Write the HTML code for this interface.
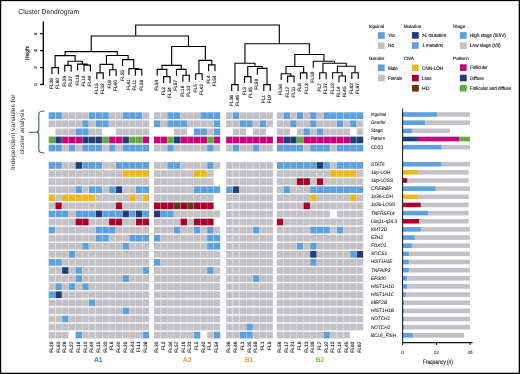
<!DOCTYPE html><html><head><meta charset="utf-8"><style>html,body{margin:0;padding:0;background:#fff;width:520px;height:374px;overflow:hidden;}svg{display:block;will-change:transform;}text{font-family:"Liberation Sans",sans-serif;fill:#111111;text-rendering:geometricPrecision;}.s{stroke:#111;stroke-width:0.12px;}.t{stroke:#222;stroke-width:0.06px;}.u{stroke:#111;stroke-width:0.1px;}</style></head><body>
<svg width="520" height="374" viewBox="0 0 520 374">
<rect x="0" y="0" width="520" height="374" fill="#fff"/>
<text x="18.3" y="14.3" font-size="7.1" style="fill:#222" textLength="60.9" lengthAdjust="spacingAndGlyphs">Cluster Dendrogram</text>
<g stroke="#000" stroke-width="1.2" fill="none">
<path d="M43.3 21.4V85" stroke-width="1.35"/>
<path d="M40.1 84.5H43.3"/>
<path d="M40.1 67.56H43.3"/>
<path d="M40.1 50.62H43.3"/>
<path d="M40.1 33.68H43.3"/>
</g>
<text class="s" font-size="4.4" text-anchor="middle" transform="translate(36.7 84.5) rotate(-90)">0</text>
<text class="s" font-size="4.4" text-anchor="middle" transform="translate(36.7 67.56) rotate(-90)">2</text>
<text class="s" font-size="4.4" text-anchor="middle" transform="translate(36.7 50.62) rotate(-90)">4</text>
<text class="s" font-size="4.4" text-anchor="middle" transform="translate(36.7 33.68) rotate(-90)">6</text>
<text class="s" font-size="5.7" text-anchor="middle" transform="translate(28.6 53) rotate(-90)" textLength="13.9" lengthAdjust="spacingAndGlyphs">Height</text>
<g stroke="#000" stroke-width="1.12" fill="none" stroke-linecap="square">
<path d="M51.9 67.6L58.32 67.6 M51.9 67.6L51.9 73.4 M58.32 67.6L58.32 73.4 M64.74 65.4L71.16 65.4 M64.74 65.4L64.74 71.2 M71.16 65.4L71.16 71.2 M84 65.1L90.42 65.1 M84 65.1L84 70.9 M90.42 65.1L90.42 70.9 M77.58 64.1L87.21 64.1 M77.58 64.1L77.58 69.9 M87.21 64.1L87.21 65.1 M67.95 61.3L82.39 61.3 M67.95 61.3L67.95 65.4 M82.39 61.3L82.39 64.1 M55.11 55.6L75.17 55.6 M55.11 55.6L55.11 67.6 M75.17 55.6L75.17 61.3 M96.84 72.9L103.26 72.9 M96.84 72.9L96.84 78.7 M103.26 72.9L103.26 78.7 M109.68 69.7L116.1 69.7 M109.68 69.7L109.68 75.5 M116.1 69.7L116.1 75.5 M100.05 64.4L112.89 64.4 M100.05 64.4L100.05 72.9 M112.89 64.4L112.89 69.7 M135.36 69.4L141.78 69.4 M135.36 69.4L135.36 75.2 M141.78 69.4L141.78 75.2 M128.94 68.6L138.57 68.6 M128.94 68.6L128.94 74.4 M138.57 68.6L138.57 69.4 M122.52 59.6L133.75 59.6 M122.52 59.6L122.52 65.4 M133.75 59.6L133.75 68.6 M106.47 55.5L128.14 55.5 M106.47 55.5L106.47 64.4 M128.14 55.5L128.14 59.6 M65.14 51.6L117.3 51.6 M65.14 51.6L65.14 55.6 M117.3 51.6L117.3 55.5 M163.62 76.6L170.04 76.6 M163.62 76.6L163.62 82.4 M170.04 76.6L170.04 82.4 M157.2 69.4L166.83 69.4 M157.2 69.4L157.2 75.2 M166.83 69.4L166.83 76.6 M182.88 75.3L189.3 75.3 M182.88 75.3L182.88 81.1 M189.3 75.3L189.3 81.1 M176.46 69.4L186.09 69.4 M176.46 69.4L176.46 75.2 M186.09 69.4L186.09 75.3 M162.01 65.4L181.27 65.4 M162.01 65.4L162.01 69.4 M181.27 65.4L181.27 69.4 M195.72 73.7L202.14 73.7 M195.72 73.7L195.72 79.5 M202.14 73.7L202.14 79.5 M208.56 64.9L214.98 64.9 M208.56 64.9L208.56 70.7 M214.98 64.9L214.98 70.7 M198.93 60.4L211.77 60.4 M198.93 60.4L198.93 73.7 M211.77 60.4L211.77 64.9 M171.64 46.5L205.35 46.5 M171.64 46.5L171.64 65.4 M205.35 46.5L205.35 60.4 M91.22 36L188.5 36 M91.22 36L91.22 51.6 M188.5 36L188.5 46.5 M231.7 84.6L238.12 84.6 M231.7 84.6L231.7 90.4 M238.12 84.6L238.12 90.4 M244.54 76.6L250.96 76.6 M244.54 76.6L244.54 82.4 M250.96 76.6L250.96 82.4 M263.8 84.6L270.22 84.6 M263.8 84.6L263.8 90.4 M270.22 84.6L270.22 90.4 M257.38 68.4L267.01 68.4 M257.38 68.4L257.38 74.2 M267.01 68.4L267.01 84.6 M247.75 66.5L262.19 66.5 M247.75 66.5L247.75 76.6 M262.19 66.5L262.19 68.4 M234.91 63.3L254.97 63.3 M234.91 63.3L234.91 84.6 M254.97 63.3L254.97 66.5 M287.62 76.1L294.04 76.1 M287.62 76.1L287.62 81.9 M294.04 76.1L294.04 81.9 M281.2 73.7L290.83 73.7 M281.2 73.7L281.2 79.5 M290.83 73.7L290.83 76.1 M300.46 72.9L306.88 72.9 M300.46 72.9L300.46 78.7 M306.88 72.9L306.88 78.7 M286.01 66.5L303.67 66.5 M286.01 66.5L286.01 73.7 M303.67 66.5L303.67 72.9 M319.72 72.8L326.14 72.8 M319.72 72.8L319.72 78.6 M326.14 72.8L326.14 78.6 M338.98 76L345.4 76 M338.98 76L338.98 81.8 M345.4 76L345.4 81.8 M332.56 72.7L342.19 72.7 M332.56 72.7L332.56 78.5 M342.19 72.7L342.19 76 M351.82 72.7L358.24 72.7 M351.82 72.7L351.82 78.5 M358.24 72.7L358.24 78.5 M337.38 66.3L355.03 66.3 M337.38 66.3L337.38 72.7 M355.03 66.3L355.03 72.7 M322.93 63.3L346.2 63.3 M322.93 63.3L322.93 72.8 M346.2 63.3L346.2 66.3 M313.3 61.3L334.57 61.3 M313.3 61.3L313.3 67.1 M334.57 61.3L334.57 63.3 M294.84 54.5L323.93 54.5 M294.84 54.5L294.84 66.5 M323.93 54.5L323.93 61.3 M244.94 43.8L309.39 43.8 M244.94 43.8L244.94 63.3 M309.39 43.8L309.39 54.5 M135.7 25L279.3 25 M135.7 25L135.7 36 M279.3 25L279.3 43.8"/>
</g>
<text class="u" font-size="4.8" text-anchor="end" transform="translate(52.9 78) rotate(-90)">FL29</text>
<text class="u" font-size="4.8" text-anchor="end" transform="translate(59.32 78) rotate(-90)">FL60</text>
<text class="u" font-size="4.8" text-anchor="end" transform="translate(65.74 75.8) rotate(-90)">FL26</text>
<text class="u" font-size="4.8" text-anchor="end" transform="translate(72.16 75.8) rotate(-90)">FL27</text>
<text class="u" font-size="4.8" text-anchor="end" transform="translate(78.58 74.5) rotate(-90)">FL18</text>
<text class="u" font-size="4.8" text-anchor="end" transform="translate(85 75.5) rotate(-90)">FL10</text>
<text class="u" font-size="4.8" text-anchor="end" transform="translate(91.42 75.5) rotate(-90)">FL44</text>
<text class="u" font-size="4.8" text-anchor="end" transform="translate(97.84 83.3) rotate(-90)">FL15</text>
<text class="u" font-size="4.8" text-anchor="end" transform="translate(104.26 83.3) rotate(-90)">FL32</text>
<text class="u" font-size="4.8" text-anchor="end" transform="translate(110.68 80.1) rotate(-90)">FL6</text>
<text class="u" font-size="4.8" text-anchor="end" transform="translate(117.1 80.1) rotate(-90)">FL40</text>
<text class="u" font-size="4.8" text-anchor="end" transform="translate(123.52 70) rotate(-90)">FL25</text>
<text class="u" font-size="4.8" text-anchor="end" transform="translate(129.94 79) rotate(-90)">FL41</text>
<text class="u" font-size="4.8" text-anchor="end" transform="translate(136.36 79.8) rotate(-90)">FL11</text>
<text class="u" font-size="4.8" text-anchor="end" transform="translate(142.78 79.8) rotate(-90)">FL38</text>
<text class="u" font-size="4.8" text-anchor="end" transform="translate(158.2 79.8) rotate(-90)">FL30</text>
<text class="u" font-size="4.8" text-anchor="end" transform="translate(164.62 87) rotate(-90)">FL2</text>
<text class="u" font-size="4.8" text-anchor="end" transform="translate(171.04 87) rotate(-90)">FL34</text>
<text class="u" font-size="4.8" text-anchor="end" transform="translate(177.46 79.8) rotate(-90)">FL57</text>
<text class="u" font-size="4.8" text-anchor="end" transform="translate(183.88 85.7) rotate(-90)">FL16</text>
<text class="u" font-size="4.8" text-anchor="end" transform="translate(190.3 85.7) rotate(-90)">FL33</text>
<text class="u" font-size="4.8" text-anchor="end" transform="translate(196.72 84.1) rotate(-90)">FL5</text>
<text class="u" font-size="4.8" text-anchor="end" transform="translate(203.14 84.1) rotate(-90)">FL42</text>
<text class="u" font-size="4.8" text-anchor="end" transform="translate(209.56 75.3) rotate(-90)">FL4</text>
<text class="u" font-size="4.8" text-anchor="end" transform="translate(215.98 75.3) rotate(-90)">FL54</text>
<text class="u" font-size="4.8" text-anchor="end" transform="translate(232.7 95) rotate(-90)">FL36</text>
<text class="u" font-size="4.8" text-anchor="end" transform="translate(239.12 95) rotate(-90)">FL46</text>
<text class="u" font-size="4.8" text-anchor="end" transform="translate(245.54 87) rotate(-90)">FL3</text>
<text class="u" font-size="4.8" text-anchor="end" transform="translate(251.96 87) rotate(-90)">FL35</text>
<text class="u" font-size="4.8" text-anchor="end" transform="translate(258.38 78.8) rotate(-90)">FL59</text>
<text class="u" font-size="4.8" text-anchor="end" transform="translate(264.8 95) rotate(-90)">FL1</text>
<text class="u" font-size="4.8" text-anchor="end" transform="translate(271.22 95) rotate(-90)">FL9</text>
<text class="u" font-size="4.8" text-anchor="end" transform="translate(282.2 84.1) rotate(-90)">FL56</text>
<text class="u" font-size="4.8" text-anchor="end" transform="translate(288.62 86.5) rotate(-90)">FL17</text>
<text class="u" font-size="4.8" text-anchor="end" transform="translate(295.04 86.5) rotate(-90)">FL31</text>
<text class="u" font-size="4.8" text-anchor="end" transform="translate(301.46 83.3) rotate(-90)">FL8</text>
<text class="u" font-size="4.8" text-anchor="end" transform="translate(307.88 83.3) rotate(-90)">FL13</text>
<text class="u" font-size="4.8" text-anchor="end" transform="translate(314.3 71.7) rotate(-90)">FL39</text>
<text class="u" font-size="4.8" text-anchor="end" transform="translate(320.72 83.2) rotate(-90)">FL7</text>
<text class="u" font-size="4.8" text-anchor="end" transform="translate(327.14 83.2) rotate(-90)">FL37</text>
<text class="u" font-size="4.8" text-anchor="end" transform="translate(333.56 83.1) rotate(-90)">FL12</text>
<text class="u" font-size="4.8" text-anchor="end" transform="translate(339.98 86.4) rotate(-90)">FL14</text>
<text class="u" font-size="4.8" text-anchor="end" transform="translate(346.4 86.4) rotate(-90)">FL45</text>
<text class="u" font-size="4.8" text-anchor="end" transform="translate(352.82 83.1) rotate(-90)">FL62</text>
<text class="u" font-size="4.8" text-anchor="end" transform="translate(359.24 83.1) rotate(-90)">FL67</text>
<text class="s" x="368.9" y="27.6" font-size="4.75" textLength="15.2" lengthAdjust="spacingAndGlyphs">Inguinal</text>
<rect x="377.9" y="32.2" width="6.8" height="6.6" fill="#5DA0DC"/>
<text class="s" x="388.1" y="37.2" font-size="5.0" textLength="7" lengthAdjust="spacingAndGlyphs">Yes</text>
<rect x="377.9" y="42.4" width="6.8" height="6.6" fill="#C3C1C6"/>
<text class="s" x="388.1" y="47.4" font-size="5.0" textLength="6.1" lengthAdjust="spacingAndGlyphs">No</text>
<text class="s" x="368.8" y="59.9" font-size="4.75" textLength="15.6" lengthAdjust="spacingAndGlyphs">Gender</text>
<rect x="377.9" y="64.5" width="6.8" height="6.6" fill="#5DA0DC"/>
<text class="s" x="388" y="69.5" font-size="5.0" textLength="9.9" lengthAdjust="spacingAndGlyphs">Male</text>
<rect x="377.9" y="74.8" width="6.8" height="6.6" fill="#C3C1C6"/>
<text class="s" x="388" y="79.8" font-size="5.0" textLength="14.4" lengthAdjust="spacingAndGlyphs">Female</text>
<text class="s" x="403.7" y="27.5" font-size="4.75" textLength="17.6" lengthAdjust="spacingAndGlyphs">Mutation</text>
<rect x="411.9" y="32.1" width="6.8" height="6.6" fill="#213D78"/>
<text class="s" x="421.9" y="37.1" font-size="5.0" textLength="24.4" lengthAdjust="spacingAndGlyphs">&gt;1 mutation</text>
<rect x="411.9" y="42.2" width="6.8" height="6.6" fill="#5DA0DC"/>
<text class="s" x="422.3" y="47.2" font-size="5.0" textLength="20.8" lengthAdjust="spacingAndGlyphs">1 mutation</text>
<text class="s" x="403.9" y="60" font-size="4.75" textLength="10.1" lengthAdjust="spacingAndGlyphs">CNA</text>
<rect x="412" y="64.5" width="6.8" height="6.6" fill="#EBB820"/>
<text class="s" x="422.1" y="69.5" font-size="5.0" textLength="21.2" lengthAdjust="spacingAndGlyphs">CNN-LOH</text>
<rect x="412" y="74.8" width="6.8" height="6.6" fill="#A8002C"/>
<text class="s" x="422.1" y="79.8" font-size="5.0" textLength="9.4" lengthAdjust="spacingAndGlyphs">Loss</text>
<rect x="412" y="85" width="6.8" height="6.6" fill="#5A3B16"/>
<text class="s" x="422.1" y="90" font-size="5.0" textLength="7.2" lengthAdjust="spacingAndGlyphs">HD</text>
<text class="s" x="453" y="27.5" font-size="4.75" textLength="12.3" lengthAdjust="spacingAndGlyphs">Stage</text>
<rect x="459.9" y="32.2" width="6.8" height="6.6" fill="#5DA0DC"/>
<text class="s" x="470" y="37.2" font-size="5.0" textLength="35.8" lengthAdjust="spacingAndGlyphs">High stage (III/IV)</text>
<rect x="459.9" y="42.4" width="6.8" height="6.6" fill="#C3C1C6"/>
<text class="s" x="470" y="47.4" font-size="5.0" textLength="30.6" lengthAdjust="spacingAndGlyphs">Low stage (I/II)</text>
<text class="s" x="453" y="59.8" font-size="4.75" textLength="15.6" lengthAdjust="spacingAndGlyphs">Pattern</text>
<rect x="459.9" y="64.3" width="6.8" height="6.6" fill="#C8007C"/>
<text class="s" x="470" y="69.3" font-size="5.0" textLength="17.5" lengthAdjust="spacingAndGlyphs">Follicular</text>
<rect x="459.9" y="74.7" width="6.8" height="6.6" fill="#213D78"/>
<text class="s" x="470.2" y="79.7" font-size="5.0" textLength="13.7" lengthAdjust="spacingAndGlyphs">Diffuse</text>
<rect x="459.9" y="84.9" width="6.8" height="6.6" fill="#62A842"/>
<text class="s" x="470" y="89.9" font-size="5.0" textLength="41.3" lengthAdjust="spacingAndGlyphs">Follicular and diffuse</text>
<text font-size="6.3" style="fill:#2a2a2a" text-anchor="middle" transform="translate(14.9 132.2) rotate(-90)" textLength="75.6" lengthAdjust="spacingAndGlyphs">Independent variables for</text>
<text font-size="6.3" style="fill:#2a2a2a" text-anchor="middle" transform="translate(24.1 131.8) rotate(-90)" textLength="45.3" lengthAdjust="spacingAndGlyphs">cluster analysis</text>
<path d="M44.5 111 Q38.8 111 38.8 114 V129.5 Q38.8 132.2 36 132.2 H28.8 M36 132.2 Q38.8 132.2 38.8 135 V150.3 Q38.8 153 44.5 153" stroke="#3F6098" stroke-width="1.15" fill="none"/>
<rect x="48.7" y="112.3" width="6.38" height="6.7" fill="#5DA0DC"/>
<rect x="55.42" y="112.3" width="6.38" height="6.7" fill="#5DA0DC"/>
<rect x="62.13" y="112.3" width="6.38" height="6.7" fill="#C3C1C6"/>
<rect x="68.85" y="112.3" width="6.38" height="6.7" fill="#C3C1C6"/>
<rect x="75.56" y="112.3" width="6.38" height="6.7" fill="#C3C1C6"/>
<rect x="82.28" y="112.3" width="6.38" height="6.7" fill="#C3C1C6"/>
<rect x="88.99" y="112.3" width="6.38" height="6.7" fill="#5DA0DC"/>
<rect x="95.71" y="112.3" width="6.38" height="6.7" fill="#5DA0DC"/>
<rect x="102.43" y="112.3" width="6.38" height="6.7" fill="#5DA0DC"/>
<rect x="109.14" y="112.3" width="6.38" height="6.7" fill="#C3C1C6"/>
<rect x="115.86" y="112.3" width="6.38" height="6.7" fill="#C3C1C6"/>
<rect x="122.57" y="112.3" width="6.38" height="6.7" fill="#5DA0DC"/>
<rect x="129.29" y="112.3" width="6.38" height="6.7" fill="#5DA0DC"/>
<rect x="136" y="112.3" width="6.38" height="6.7" fill="#5DA0DC"/>
<rect x="142.72" y="112.3" width="6.38" height="6.7" fill="#C3C1C6"/>
<rect x="154" y="112.3" width="6.38" height="6.7" fill="#C3C1C6"/>
<rect x="160.65" y="112.3" width="6.38" height="6.7" fill="#C3C1C6"/>
<rect x="167.29" y="112.3" width="6.38" height="6.7" fill="#5DA0DC"/>
<rect x="173.94" y="112.3" width="6.38" height="6.7" fill="#5DA0DC"/>
<rect x="180.59" y="112.3" width="6.38" height="6.7" fill="#C3C1C6"/>
<rect x="187.23" y="112.3" width="6.38" height="6.7" fill="#C3C1C6"/>
<rect x="193.88" y="112.3" width="6.38" height="6.7" fill="#C3C1C6"/>
<rect x="200.53" y="112.3" width="6.38" height="6.7" fill="#5DA0DC"/>
<rect x="207.17" y="112.3" width="6.38" height="6.7" fill="#5DA0DC"/>
<rect x="213.82" y="112.3" width="6.38" height="6.7" fill="#5DA0DC"/>
<rect x="226.2" y="112.3" width="6.38" height="6.7" fill="#C3C1C6"/>
<rect x="232.92" y="112.3" width="6.38" height="6.7" fill="#5DA0DC"/>
<rect x="239.64" y="112.3" width="6.38" height="6.7" fill="#C3C1C6"/>
<rect x="246.36" y="112.3" width="6.38" height="6.7" fill="#C3C1C6"/>
<rect x="253.08" y="112.3" width="6.38" height="6.7" fill="#C3C1C6"/>
<rect x="259.8" y="112.3" width="6.38" height="6.7" fill="#C3C1C6"/>
<rect x="266.52" y="112.3" width="6.38" height="6.7" fill="#C3C1C6"/>
<rect x="276.9" y="112.3" width="6.38" height="6.7" fill="#C3C1C6"/>
<rect x="283.56" y="112.3" width="6.38" height="6.7" fill="#5DA0DC"/>
<rect x="290.22" y="112.3" width="6.38" height="6.7" fill="#C3C1C6"/>
<rect x="296.88" y="112.3" width="6.38" height="6.7" fill="#5DA0DC"/>
<rect x="303.54" y="112.3" width="6.38" height="6.7" fill="#C3C1C6"/>
<rect x="310.2" y="112.3" width="6.38" height="6.7" fill="#5DA0DC"/>
<rect x="316.86" y="112.3" width="6.38" height="6.7" fill="#C3C1C6"/>
<rect x="323.52" y="112.3" width="6.38" height="6.7" fill="#5DA0DC"/>
<rect x="330.18" y="112.3" width="6.38" height="6.7" fill="#5DA0DC"/>
<rect x="336.84" y="112.3" width="6.38" height="6.7" fill="#5DA0DC"/>
<rect x="343.5" y="112.3" width="6.38" height="6.7" fill="#5DA0DC"/>
<rect x="350.16" y="112.3" width="6.38" height="6.7" fill="#5DA0DC"/>
<rect x="356.82" y="112.3" width="6.38" height="6.7" fill="#5DA0DC"/>
<rect x="48.7" y="120.4" width="6.38" height="6.7" fill="#C3C1C6"/>
<rect x="55.42" y="120.4" width="6.38" height="6.7" fill="#C3C1C6"/>
<rect x="62.13" y="120.4" width="6.38" height="6.7" fill="#C3C1C6"/>
<rect x="68.85" y="120.4" width="6.38" height="6.7" fill="#C3C1C6"/>
<rect x="75.56" y="120.4" width="6.38" height="6.7" fill="#C3C1C6"/>
<rect x="82.28" y="120.4" width="6.38" height="6.7" fill="#5DA0DC"/>
<rect x="88.99" y="120.4" width="6.38" height="6.7" fill="#C3C1C6"/>
<rect x="95.71" y="120.4" width="6.38" height="6.7" fill="#5DA0DC"/>
<rect x="102.43" y="120.4" width="6.38" height="6.7" fill="#5DA0DC"/>
<rect x="109.14" y="120.4" width="6.38" height="6.7" fill="#C3C1C6"/>
<rect x="115.86" y="120.4" width="6.38" height="6.7" fill="#C3C1C6"/>
<rect x="122.57" y="120.4" width="6.38" height="6.7" fill="#C3C1C6"/>
<rect x="129.29" y="120.4" width="6.38" height="6.7" fill="#C3C1C6"/>
<rect x="136" y="120.4" width="6.38" height="6.7" fill="#C3C1C6"/>
<rect x="142.72" y="120.4" width="6.38" height="6.7" fill="#C3C1C6"/>
<rect x="154" y="120.4" width="6.38" height="6.7" fill="#5DA0DC"/>
<rect x="160.65" y="120.4" width="6.38" height="6.7" fill="#C3C1C6"/>
<rect x="167.29" y="120.4" width="6.38" height="6.7" fill="#5DA0DC"/>
<rect x="173.94" y="120.4" width="6.38" height="6.7" fill="#5DA0DC"/>
<rect x="180.59" y="120.4" width="6.38" height="6.7" fill="#5DA0DC"/>
<rect x="187.23" y="120.4" width="6.38" height="6.7" fill="#C3C1C6"/>
<rect x="193.88" y="120.4" width="6.38" height="6.7" fill="#C3C1C6"/>
<rect x="200.53" y="120.4" width="6.38" height="6.7" fill="#C3C1C6"/>
<rect x="207.17" y="120.4" width="6.38" height="6.7" fill="#C3C1C6"/>
<rect x="213.82" y="120.4" width="6.38" height="6.7" fill="#5DA0DC"/>
<rect x="226.2" y="120.4" width="6.38" height="6.7" fill="#C3C1C6"/>
<rect x="232.92" y="120.4" width="6.38" height="6.7" fill="#C3C1C6"/>
<rect x="239.64" y="120.4" width="6.38" height="6.7" fill="#5DA0DC"/>
<rect x="246.36" y="120.4" width="6.38" height="6.7" fill="#5DA0DC"/>
<rect x="253.08" y="120.4" width="6.38" height="6.7" fill="#C3C1C6"/>
<rect x="259.8" y="120.4" width="6.38" height="6.7" fill="#5DA0DC"/>
<rect x="266.52" y="120.4" width="6.38" height="6.7" fill="#C3C1C6"/>
<rect x="276.9" y="120.4" width="6.38" height="6.7" fill="#C3C1C6"/>
<rect x="283.56" y="120.4" width="6.38" height="6.7" fill="#C3C1C6"/>
<rect x="290.22" y="120.4" width="6.38" height="6.7" fill="#5DA0DC"/>
<rect x="296.88" y="120.4" width="6.38" height="6.7" fill="#C3C1C6"/>
<rect x="303.54" y="120.4" width="6.38" height="6.7" fill="#C3C1C6"/>
<rect x="310.2" y="120.4" width="6.38" height="6.7" fill="#5DA0DC"/>
<rect x="316.86" y="120.4" width="6.38" height="6.7" fill="#C3C1C6"/>
<rect x="323.52" y="120.4" width="6.38" height="6.7" fill="#C3C1C6"/>
<rect x="330.18" y="120.4" width="6.38" height="6.7" fill="#C3C1C6"/>
<rect x="336.84" y="120.4" width="6.38" height="6.7" fill="#5DA0DC"/>
<rect x="343.5" y="120.4" width="6.38" height="6.7" fill="#C3C1C6"/>
<rect x="350.16" y="120.4" width="6.38" height="6.7" fill="#5DA0DC"/>
<rect x="356.82" y="120.4" width="6.38" height="6.7" fill="#C3C1C6"/>
<rect x="55.42" y="128.5" width="6.38" height="6.7" fill="#C3C1C6"/>
<rect x="62.13" y="128.5" width="6.38" height="6.7" fill="#C3C1C6"/>
<rect x="68.85" y="128.5" width="6.38" height="6.7" fill="#C3C1C6"/>
<rect x="75.56" y="128.5" width="6.38" height="6.7" fill="#5DA0DC"/>
<rect x="82.28" y="128.5" width="6.38" height="6.7" fill="#5DA0DC"/>
<rect x="88.99" y="128.5" width="6.38" height="6.7" fill="#C3C1C6"/>
<rect x="95.71" y="128.5" width="6.38" height="6.7" fill="#C3C1C6"/>
<rect x="115.86" y="128.5" width="6.38" height="6.7" fill="#C3C1C6"/>
<rect x="122.57" y="128.5" width="6.38" height="6.7" fill="#C3C1C6"/>
<rect x="129.29" y="128.5" width="6.38" height="6.7" fill="#C3C1C6"/>
<rect x="136" y="128.5" width="6.38" height="6.7" fill="#C3C1C6"/>
<rect x="142.72" y="128.5" width="6.38" height="6.7" fill="#C3C1C6"/>
<rect x="173.94" y="128.5" width="6.38" height="6.7" fill="#C3C1C6"/>
<rect x="180.59" y="128.5" width="6.38" height="6.7" fill="#C3C1C6"/>
<rect x="193.88" y="128.5" width="6.38" height="6.7" fill="#5DA0DC"/>
<rect x="200.53" y="128.5" width="6.38" height="6.7" fill="#5DA0DC"/>
<rect x="207.17" y="128.5" width="6.38" height="6.7" fill="#C3C1C6"/>
<rect x="213.82" y="128.5" width="6.38" height="6.7" fill="#5DA0DC"/>
<rect x="232.92" y="128.5" width="6.38" height="6.7" fill="#C3C1C6"/>
<rect x="239.64" y="128.5" width="6.38" height="6.7" fill="#C3C1C6"/>
<rect x="253.08" y="128.5" width="6.38" height="6.7" fill="#C3C1C6"/>
<rect x="259.8" y="128.5" width="6.38" height="6.7" fill="#C3C1C6"/>
<rect x="276.9" y="128.5" width="6.38" height="6.7" fill="#C3C1C6"/>
<rect x="283.56" y="128.5" width="6.38" height="6.7" fill="#C3C1C6"/>
<rect x="296.88" y="128.5" width="6.38" height="6.7" fill="#C3C1C6"/>
<rect x="303.54" y="128.5" width="6.38" height="6.7" fill="#5DA0DC"/>
<rect x="310.2" y="128.5" width="6.38" height="6.7" fill="#C3C1C6"/>
<rect x="316.86" y="128.5" width="6.38" height="6.7" fill="#5DA0DC"/>
<rect x="323.52" y="128.5" width="6.38" height="6.7" fill="#C3C1C6"/>
<rect x="330.18" y="128.5" width="6.38" height="6.7" fill="#C3C1C6"/>
<rect x="336.84" y="128.5" width="6.38" height="6.7" fill="#C3C1C6"/>
<rect x="343.5" y="128.5" width="6.38" height="6.7" fill="#C3C1C6"/>
<rect x="356.82" y="128.5" width="6.38" height="6.7" fill="#C3C1C6"/>
<rect x="48.7" y="136.6" width="6.38" height="6.7" fill="#62A842"/>
<rect x="55.42" y="136.6" width="6.38" height="6.7" fill="#213D78"/>
<rect x="62.13" y="136.6" width="6.38" height="6.7" fill="#C8007C"/>
<rect x="68.85" y="136.6" width="6.38" height="6.7" fill="#C8007C"/>
<rect x="75.56" y="136.6" width="6.38" height="6.7" fill="#C8007C"/>
<rect x="82.28" y="136.6" width="6.38" height="6.7" fill="#213D78"/>
<rect x="88.99" y="136.6" width="6.38" height="6.7" fill="#213D78"/>
<rect x="95.71" y="136.6" width="6.38" height="6.7" fill="#213D78"/>
<rect x="102.43" y="136.6" width="6.38" height="6.7" fill="#62A842"/>
<rect x="109.14" y="136.6" width="6.38" height="6.7" fill="#C8007C"/>
<rect x="115.86" y="136.6" width="6.38" height="6.7" fill="#C8007C"/>
<rect x="122.57" y="136.6" width="6.38" height="6.7" fill="#213D78"/>
<rect x="129.29" y="136.6" width="6.38" height="6.7" fill="#62A842"/>
<rect x="136" y="136.6" width="6.38" height="6.7" fill="#62A842"/>
<rect x="142.72" y="136.6" width="6.38" height="6.7" fill="#C8007C"/>
<rect x="154" y="136.6" width="6.38" height="6.7" fill="#C8007C"/>
<rect x="160.65" y="136.6" width="6.38" height="6.7" fill="#C8007C"/>
<rect x="167.29" y="136.6" width="6.38" height="6.7" fill="#62A842"/>
<rect x="173.94" y="136.6" width="6.38" height="6.7" fill="#213D78"/>
<rect x="180.59" y="136.6" width="6.38" height="6.7" fill="#C8007C"/>
<rect x="187.23" y="136.6" width="6.38" height="6.7" fill="#C8007C"/>
<rect x="193.88" y="136.6" width="6.38" height="6.7" fill="#C8007C"/>
<rect x="200.53" y="136.6" width="6.38" height="6.7" fill="#C8007C"/>
<rect x="207.17" y="136.6" width="6.38" height="6.7" fill="#62A842"/>
<rect x="213.82" y="136.6" width="6.38" height="6.7" fill="#C8007C"/>
<rect x="226.2" y="136.6" width="6.38" height="6.7" fill="#C8007C"/>
<rect x="232.92" y="136.6" width="6.38" height="6.7" fill="#C8007C"/>
<rect x="239.64" y="136.6" width="6.38" height="6.7" fill="#C8007C"/>
<rect x="246.36" y="136.6" width="6.38" height="6.7" fill="#C8007C"/>
<rect x="253.08" y="136.6" width="6.38" height="6.7" fill="#C8007C"/>
<rect x="259.8" y="136.6" width="6.38" height="6.7" fill="#C8007C"/>
<rect x="266.52" y="136.6" width="6.38" height="6.7" fill="#C8007C"/>
<rect x="276.9" y="136.6" width="6.38" height="6.7" fill="#C8007C"/>
<rect x="283.56" y="136.6" width="6.38" height="6.7" fill="#213D78"/>
<rect x="290.22" y="136.6" width="6.38" height="6.7" fill="#213D78"/>
<rect x="296.88" y="136.6" width="6.38" height="6.7" fill="#62A842"/>
<rect x="303.54" y="136.6" width="6.38" height="6.7" fill="#C8007C"/>
<rect x="310.2" y="136.6" width="6.38" height="6.7" fill="#C8007C"/>
<rect x="316.86" y="136.6" width="6.38" height="6.7" fill="#C8007C"/>
<rect x="323.52" y="136.6" width="6.38" height="6.7" fill="#C8007C"/>
<rect x="330.18" y="136.6" width="6.38" height="6.7" fill="#C8007C"/>
<rect x="336.84" y="136.6" width="6.38" height="6.7" fill="#C8007C"/>
<rect x="343.5" y="136.6" width="6.38" height="6.7" fill="#C8007C"/>
<rect x="350.16" y="136.6" width="6.38" height="6.7" fill="#213D78"/>
<rect x="356.82" y="136.6" width="6.38" height="6.7" fill="#213D78"/>
<rect x="48.7" y="144.7" width="6.38" height="6.7" fill="#5DA0DC"/>
<rect x="55.42" y="144.7" width="6.38" height="6.7" fill="#5DA0DC"/>
<rect x="62.13" y="144.7" width="6.38" height="6.7" fill="#C3C1C6"/>
<rect x="68.85" y="144.7" width="6.38" height="6.7" fill="#5DA0DC"/>
<rect x="75.56" y="144.7" width="6.38" height="6.7" fill="#C3C1C6"/>
<rect x="82.28" y="144.7" width="6.38" height="6.7" fill="#5DA0DC"/>
<rect x="88.99" y="144.7" width="6.38" height="6.7" fill="#5DA0DC"/>
<rect x="95.71" y="144.7" width="6.38" height="6.7" fill="#5DA0DC"/>
<rect x="102.43" y="144.7" width="6.38" height="6.7" fill="#C3C1C6"/>
<rect x="109.14" y="144.7" width="6.38" height="6.7" fill="#5DA0DC"/>
<rect x="115.86" y="144.7" width="6.38" height="6.7" fill="#C3C1C6"/>
<rect x="122.57" y="144.7" width="6.38" height="6.7" fill="#5DA0DC"/>
<rect x="129.29" y="144.7" width="6.38" height="6.7" fill="#5DA0DC"/>
<rect x="136" y="144.7" width="6.38" height="6.7" fill="#5DA0DC"/>
<rect x="142.72" y="144.7" width="6.38" height="6.7" fill="#5DA0DC"/>
<rect x="154" y="144.7" width="6.38" height="6.7" fill="#C3C1C6"/>
<rect x="160.65" y="144.7" width="6.38" height="6.7" fill="#C3C1C6"/>
<rect x="167.29" y="144.7" width="6.38" height="6.7" fill="#5DA0DC"/>
<rect x="173.94" y="144.7" width="6.38" height="6.7" fill="#C3C1C6"/>
<rect x="180.59" y="144.7" width="6.38" height="6.7" fill="#C3C1C6"/>
<rect x="187.23" y="144.7" width="6.38" height="6.7" fill="#C3C1C6"/>
<rect x="193.88" y="144.7" width="6.38" height="6.7" fill="#C3C1C6"/>
<rect x="200.53" y="144.7" width="6.38" height="6.7" fill="#C3C1C6"/>
<rect x="207.17" y="144.7" width="6.38" height="6.7" fill="#5DA0DC"/>
<rect x="213.82" y="144.7" width="6.38" height="6.7" fill="#C3C1C6"/>
<rect x="226.2" y="144.7" width="6.38" height="6.7" fill="#C3C1C6"/>
<rect x="232.92" y="144.7" width="6.38" height="6.7" fill="#5DA0DC"/>
<rect x="239.64" y="144.7" width="6.38" height="6.7" fill="#C3C1C6"/>
<rect x="246.36" y="144.7" width="6.38" height="6.7" fill="#C3C1C6"/>
<rect x="253.08" y="144.7" width="6.38" height="6.7" fill="#5DA0DC"/>
<rect x="259.8" y="144.7" width="6.38" height="6.7" fill="#C3C1C6"/>
<rect x="266.52" y="144.7" width="6.38" height="6.7" fill="#C3C1C6"/>
<rect x="276.9" y="144.7" width="6.38" height="6.7" fill="#5DA0DC"/>
<rect x="283.56" y="144.7" width="6.38" height="6.7" fill="#5DA0DC"/>
<rect x="290.22" y="144.7" width="6.38" height="6.7" fill="#5DA0DC"/>
<rect x="296.88" y="144.7" width="6.38" height="6.7" fill="#5DA0DC"/>
<rect x="303.54" y="144.7" width="6.38" height="6.7" fill="#C3C1C6"/>
<rect x="310.2" y="144.7" width="6.38" height="6.7" fill="#5DA0DC"/>
<rect x="316.86" y="144.7" width="6.38" height="6.7" fill="#5DA0DC"/>
<rect x="323.52" y="144.7" width="6.38" height="6.7" fill="#5DA0DC"/>
<rect x="330.18" y="144.7" width="6.38" height="6.7" fill="#C3C1C6"/>
<rect x="336.84" y="144.7" width="6.38" height="6.7" fill="#5DA0DC"/>
<rect x="343.5" y="144.7" width="6.38" height="6.7" fill="#5DA0DC"/>
<rect x="350.16" y="144.7" width="6.38" height="6.7" fill="#5DA0DC"/>
<rect x="356.82" y="144.7" width="6.38" height="6.7" fill="#5DA0DC"/>
<rect x="48.7" y="162.1" width="6.38" height="6.7" fill="#5DA0DC"/>
<rect x="55.42" y="162.1" width="6.38" height="6.7" fill="#5DA0DC"/>
<rect x="62.13" y="162.1" width="6.38" height="6.7" fill="#C3C1C6"/>
<rect x="68.85" y="162.1" width="6.38" height="6.7" fill="#C3C1C6"/>
<rect x="75.56" y="162.1" width="6.38" height="6.7" fill="#213D78"/>
<rect x="82.28" y="162.1" width="6.38" height="6.7" fill="#5DA0DC"/>
<rect x="88.99" y="162.1" width="6.38" height="6.7" fill="#5DA0DC"/>
<rect x="95.71" y="162.1" width="6.38" height="6.7" fill="#5DA0DC"/>
<rect x="102.43" y="162.1" width="6.38" height="6.7" fill="#C3C1C6"/>
<rect x="109.14" y="162.1" width="6.38" height="6.7" fill="#C3C1C6"/>
<rect x="115.86" y="162.1" width="6.38" height="6.7" fill="#5DA0DC"/>
<rect x="122.57" y="162.1" width="6.38" height="6.7" fill="#5DA0DC"/>
<rect x="129.29" y="162.1" width="6.38" height="6.7" fill="#5DA0DC"/>
<rect x="136" y="162.1" width="6.38" height="6.7" fill="#5DA0DC"/>
<rect x="142.72" y="162.1" width="6.38" height="6.7" fill="#5DA0DC"/>
<rect x="154" y="162.1" width="6.38" height="6.7" fill="#C3C1C6"/>
<rect x="160.65" y="162.1" width="6.38" height="6.7" fill="#C3C1C6"/>
<rect x="167.29" y="162.1" width="6.38" height="6.7" fill="#5DA0DC"/>
<rect x="173.94" y="162.1" width="6.38" height="6.7" fill="#5DA0DC"/>
<rect x="180.59" y="162.1" width="6.38" height="6.7" fill="#C3C1C6"/>
<rect x="187.23" y="162.1" width="6.38" height="6.7" fill="#C3C1C6"/>
<rect x="193.88" y="162.1" width="6.38" height="6.7" fill="#C3C1C6"/>
<rect x="200.53" y="162.1" width="6.38" height="6.7" fill="#C3C1C6"/>
<rect x="207.17" y="162.1" width="6.38" height="6.7" fill="#5DA0DC"/>
<rect x="213.82" y="162.1" width="6.38" height="6.7" fill="#C3C1C6"/>
<rect x="226.2" y="162.1" width="6.38" height="6.7" fill="#C3C1C6"/>
<rect x="232.92" y="162.1" width="6.38" height="6.7" fill="#C3C1C6"/>
<rect x="239.64" y="162.1" width="6.38" height="6.7" fill="#C3C1C6"/>
<rect x="246.36" y="162.1" width="6.38" height="6.7" fill="#C3C1C6"/>
<rect x="253.08" y="162.1" width="6.38" height="6.7" fill="#C3C1C6"/>
<rect x="259.8" y="162.1" width="6.38" height="6.7" fill="#C3C1C6"/>
<rect x="266.52" y="162.1" width="6.38" height="6.7" fill="#C3C1C6"/>
<rect x="276.9" y="162.1" width="6.38" height="6.7" fill="#5DA0DC"/>
<rect x="283.56" y="162.1" width="6.38" height="6.7" fill="#5DA0DC"/>
<rect x="290.22" y="162.1" width="6.38" height="6.7" fill="#5DA0DC"/>
<rect x="296.88" y="162.1" width="6.38" height="6.7" fill="#5DA0DC"/>
<rect x="303.54" y="162.1" width="6.38" height="6.7" fill="#5DA0DC"/>
<rect x="310.2" y="162.1" width="6.38" height="6.7" fill="#5DA0DC"/>
<rect x="316.86" y="162.1" width="6.38" height="6.7" fill="#213D78"/>
<rect x="323.52" y="162.1" width="6.38" height="6.7" fill="#5DA0DC"/>
<rect x="330.18" y="162.1" width="6.38" height="6.7" fill="#C3C1C6"/>
<rect x="336.84" y="162.1" width="6.38" height="6.7" fill="#5DA0DC"/>
<rect x="343.5" y="162.1" width="6.38" height="6.7" fill="#5DA0DC"/>
<rect x="350.16" y="162.1" width="6.38" height="6.7" fill="#5DA0DC"/>
<rect x="356.82" y="162.1" width="6.38" height="6.7" fill="#5DA0DC"/>
<rect x="48.7" y="170.18" width="6.38" height="6.7" fill="#C3C1C6"/>
<rect x="55.42" y="170.18" width="6.38" height="6.7" fill="#C3C1C6"/>
<rect x="62.13" y="170.18" width="6.38" height="6.7" fill="#C3C1C6"/>
<rect x="68.85" y="170.18" width="6.38" height="6.7" fill="#C3C1C6"/>
<rect x="75.56" y="170.18" width="6.38" height="6.7" fill="#C3C1C6"/>
<rect x="82.28" y="170.18" width="6.38" height="6.7" fill="#C3C1C6"/>
<rect x="88.99" y="170.18" width="6.38" height="6.7" fill="#C3C1C6"/>
<rect x="95.71" y="170.18" width="6.38" height="6.7" fill="#C3C1C6"/>
<rect x="102.43" y="170.18" width="6.38" height="6.7" fill="#C3C1C6"/>
<rect x="109.14" y="170.18" width="6.38" height="6.7" fill="#C3C1C6"/>
<rect x="115.86" y="170.18" width="6.38" height="6.7" fill="#C3C1C6"/>
<rect x="122.57" y="170.18" width="6.38" height="6.7" fill="#EBB820"/>
<rect x="129.29" y="170.18" width="6.38" height="6.7" fill="#EBB820"/>
<rect x="136" y="170.18" width="6.38" height="6.7" fill="#EBB820"/>
<rect x="142.72" y="170.18" width="6.38" height="6.7" fill="#EBB820"/>
<rect x="154" y="170.18" width="6.38" height="6.7" fill="#C3C1C6"/>
<rect x="160.65" y="170.18" width="6.38" height="6.7" fill="#C3C1C6"/>
<rect x="167.29" y="170.18" width="6.38" height="6.7" fill="#C3C1C6"/>
<rect x="173.94" y="170.18" width="6.38" height="6.7" fill="#C3C1C6"/>
<rect x="180.59" y="170.18" width="6.38" height="6.7" fill="#C3C1C6"/>
<rect x="187.23" y="170.18" width="6.38" height="6.7" fill="#C3C1C6"/>
<rect x="193.88" y="170.18" width="6.38" height="6.7" fill="#EBB820"/>
<rect x="200.53" y="170.18" width="6.38" height="6.7" fill="#EBB820"/>
<rect x="207.17" y="170.18" width="6.38" height="6.7" fill="#C3C1C6"/>
<rect x="226.2" y="170.18" width="6.38" height="6.7" fill="#C3C1C6"/>
<rect x="232.92" y="170.18" width="6.38" height="6.7" fill="#C3C1C6"/>
<rect x="239.64" y="170.18" width="6.38" height="6.7" fill="#C3C1C6"/>
<rect x="246.36" y="170.18" width="6.38" height="6.7" fill="#C3C1C6"/>
<rect x="253.08" y="170.18" width="6.38" height="6.7" fill="#C3C1C6"/>
<rect x="259.8" y="170.18" width="6.38" height="6.7" fill="#C3C1C6"/>
<rect x="266.52" y="170.18" width="6.38" height="6.7" fill="#C3C1C6"/>
<rect x="276.9" y="170.18" width="6.38" height="6.7" fill="#C3C1C6"/>
<rect x="283.56" y="170.18" width="6.38" height="6.7" fill="#C3C1C6"/>
<rect x="290.22" y="170.18" width="6.38" height="6.7" fill="#C3C1C6"/>
<rect x="296.88" y="170.18" width="6.38" height="6.7" fill="#C3C1C6"/>
<rect x="303.54" y="170.18" width="6.38" height="6.7" fill="#C3C1C6"/>
<rect x="310.2" y="170.18" width="6.38" height="6.7" fill="#C3C1C6"/>
<rect x="316.86" y="170.18" width="6.38" height="6.7" fill="#C3C1C6"/>
<rect x="323.52" y="170.18" width="6.38" height="6.7" fill="#C3C1C6"/>
<rect x="330.18" y="170.18" width="6.38" height="6.7" fill="#EBB820"/>
<rect x="336.84" y="170.18" width="6.38" height="6.7" fill="#EBB820"/>
<rect x="343.5" y="170.18" width="6.38" height="6.7" fill="#EBB820"/>
<rect x="350.16" y="170.18" width="6.38" height="6.7" fill="#EBB820"/>
<rect x="356.82" y="170.18" width="6.38" height="6.7" fill="#C3C1C6"/>
<rect x="48.7" y="178.26" width="6.38" height="6.7" fill="#C3C1C6"/>
<rect x="55.42" y="178.26" width="6.38" height="6.7" fill="#C3C1C6"/>
<rect x="62.13" y="178.26" width="6.38" height="6.7" fill="#C3C1C6"/>
<rect x="68.85" y="178.26" width="6.38" height="6.7" fill="#C3C1C6"/>
<rect x="75.56" y="178.26" width="6.38" height="6.7" fill="#C3C1C6"/>
<rect x="82.28" y="178.26" width="6.38" height="6.7" fill="#C3C1C6"/>
<rect x="88.99" y="178.26" width="6.38" height="6.7" fill="#C3C1C6"/>
<rect x="95.71" y="178.26" width="6.38" height="6.7" fill="#C3C1C6"/>
<rect x="102.43" y="178.26" width="6.38" height="6.7" fill="#C3C1C6"/>
<rect x="109.14" y="178.26" width="6.38" height="6.7" fill="#C3C1C6"/>
<rect x="115.86" y="178.26" width="6.38" height="6.7" fill="#C3C1C6"/>
<rect x="122.57" y="178.26" width="6.38" height="6.7" fill="#C3C1C6"/>
<rect x="129.29" y="178.26" width="6.38" height="6.7" fill="#C3C1C6"/>
<rect x="136" y="178.26" width="6.38" height="6.7" fill="#C3C1C6"/>
<rect x="142.72" y="178.26" width="6.38" height="6.7" fill="#C3C1C6"/>
<rect x="154" y="178.26" width="6.38" height="6.7" fill="#C3C1C6"/>
<rect x="160.65" y="178.26" width="6.38" height="6.7" fill="#C3C1C6"/>
<rect x="167.29" y="178.26" width="6.38" height="6.7" fill="#C3C1C6"/>
<rect x="173.94" y="178.26" width="6.38" height="6.7" fill="#C3C1C6"/>
<rect x="180.59" y="178.26" width="6.38" height="6.7" fill="#C3C1C6"/>
<rect x="187.23" y="178.26" width="6.38" height="6.7" fill="#C3C1C6"/>
<rect x="193.88" y="178.26" width="6.38" height="6.7" fill="#C3C1C6"/>
<rect x="200.53" y="178.26" width="6.38" height="6.7" fill="#C3C1C6"/>
<rect x="207.17" y="178.26" width="6.38" height="6.7" fill="#C3C1C6"/>
<rect x="226.2" y="178.26" width="6.38" height="6.7" fill="#C3C1C6"/>
<rect x="232.92" y="178.26" width="6.38" height="6.7" fill="#C3C1C6"/>
<rect x="239.64" y="178.26" width="6.38" height="6.7" fill="#C3C1C6"/>
<rect x="246.36" y="178.26" width="6.38" height="6.7" fill="#C3C1C6"/>
<rect x="253.08" y="178.26" width="6.38" height="6.7" fill="#C3C1C6"/>
<rect x="259.8" y="178.26" width="6.38" height="6.7" fill="#C3C1C6"/>
<rect x="266.52" y="178.26" width="6.38" height="6.7" fill="#C3C1C6"/>
<rect x="276.9" y="178.26" width="6.38" height="6.7" fill="#C3C1C6"/>
<rect x="283.56" y="178.26" width="6.38" height="6.7" fill="#C3C1C6"/>
<rect x="290.22" y="178.26" width="6.38" height="6.7" fill="#C3C1C6"/>
<rect x="296.88" y="178.26" width="6.38" height="6.7" fill="#A8002C"/>
<rect x="303.54" y="178.26" width="6.38" height="6.7" fill="#A8002C"/>
<rect x="310.2" y="178.26" width="6.38" height="6.7" fill="#C3C1C6"/>
<rect x="316.86" y="178.26" width="6.38" height="6.7" fill="#A8002C"/>
<rect x="323.52" y="178.26" width="6.38" height="6.7" fill="#C3C1C6"/>
<rect x="330.18" y="178.26" width="6.38" height="6.7" fill="#C3C1C6"/>
<rect x="336.84" y="178.26" width="6.38" height="6.7" fill="#C3C1C6"/>
<rect x="343.5" y="178.26" width="6.38" height="6.7" fill="#C3C1C6"/>
<rect x="350.16" y="178.26" width="6.38" height="6.7" fill="#C3C1C6"/>
<rect x="356.82" y="178.26" width="6.38" height="6.7" fill="#C3C1C6"/>
<rect x="48.7" y="186.34" width="6.38" height="6.7" fill="#C3C1C6"/>
<rect x="55.42" y="186.34" width="6.38" height="6.7" fill="#C3C1C6"/>
<rect x="62.13" y="186.34" width="6.38" height="6.7" fill="#C3C1C6"/>
<rect x="68.85" y="186.34" width="6.38" height="6.7" fill="#C3C1C6"/>
<rect x="75.56" y="186.34" width="6.38" height="6.7" fill="#5DA0DC"/>
<rect x="82.28" y="186.34" width="6.38" height="6.7" fill="#C3C1C6"/>
<rect x="88.99" y="186.34" width="6.38" height="6.7" fill="#5DA0DC"/>
<rect x="95.71" y="186.34" width="6.38" height="6.7" fill="#5DA0DC"/>
<rect x="102.43" y="186.34" width="6.38" height="6.7" fill="#C3C1C6"/>
<rect x="109.14" y="186.34" width="6.38" height="6.7" fill="#5DA0DC"/>
<rect x="115.86" y="186.34" width="6.38" height="6.7" fill="#213D78"/>
<rect x="122.57" y="186.34" width="6.38" height="6.7" fill="#C3C1C6"/>
<rect x="129.29" y="186.34" width="6.38" height="6.7" fill="#C3C1C6"/>
<rect x="136" y="186.34" width="6.38" height="6.7" fill="#5DA0DC"/>
<rect x="142.72" y="186.34" width="6.38" height="6.7" fill="#5DA0DC"/>
<rect x="154" y="186.34" width="6.38" height="6.7" fill="#C3C1C6"/>
<rect x="160.65" y="186.34" width="6.38" height="6.7" fill="#C3C1C6"/>
<rect x="167.29" y="186.34" width="6.38" height="6.7" fill="#C3C1C6"/>
<rect x="173.94" y="186.34" width="6.38" height="6.7" fill="#C3C1C6"/>
<rect x="180.59" y="186.34" width="6.38" height="6.7" fill="#C3C1C6"/>
<rect x="187.23" y="186.34" width="6.38" height="6.7" fill="#C3C1C6"/>
<rect x="193.88" y="186.34" width="6.38" height="6.7" fill="#5DA0DC"/>
<rect x="200.53" y="186.34" width="6.38" height="6.7" fill="#5DA0DC"/>
<rect x="207.17" y="186.34" width="6.38" height="6.7" fill="#5DA0DC"/>
<rect x="213.82" y="186.34" width="6.38" height="6.7" fill="#5DA0DC"/>
<rect x="226.2" y="186.34" width="6.38" height="6.7" fill="#5DA0DC"/>
<rect x="232.92" y="186.34" width="6.38" height="6.7" fill="#213D78"/>
<rect x="239.64" y="186.34" width="6.38" height="6.7" fill="#C3C1C6"/>
<rect x="246.36" y="186.34" width="6.38" height="6.7" fill="#C3C1C6"/>
<rect x="253.08" y="186.34" width="6.38" height="6.7" fill="#C3C1C6"/>
<rect x="259.8" y="186.34" width="6.38" height="6.7" fill="#C3C1C6"/>
<rect x="266.52" y="186.34" width="6.38" height="6.7" fill="#C3C1C6"/>
<rect x="276.9" y="186.34" width="6.38" height="6.7" fill="#C3C1C6"/>
<rect x="283.56" y="186.34" width="6.38" height="6.7" fill="#5DA0DC"/>
<rect x="290.22" y="186.34" width="6.38" height="6.7" fill="#C3C1C6"/>
<rect x="296.88" y="186.34" width="6.38" height="6.7" fill="#C3C1C6"/>
<rect x="303.54" y="186.34" width="6.38" height="6.7" fill="#C3C1C6"/>
<rect x="310.2" y="186.34" width="6.38" height="6.7" fill="#5DA0DC"/>
<rect x="316.86" y="186.34" width="6.38" height="6.7" fill="#5DA0DC"/>
<rect x="323.52" y="186.34" width="6.38" height="6.7" fill="#5DA0DC"/>
<rect x="330.18" y="186.34" width="6.38" height="6.7" fill="#5DA0DC"/>
<rect x="336.84" y="186.34" width="6.38" height="6.7" fill="#5DA0DC"/>
<rect x="343.5" y="186.34" width="6.38" height="6.7" fill="#5DA0DC"/>
<rect x="350.16" y="186.34" width="6.38" height="6.7" fill="#5DA0DC"/>
<rect x="356.82" y="186.34" width="6.38" height="6.7" fill="#5DA0DC"/>
<rect x="48.7" y="194.42" width="6.38" height="6.7" fill="#EBB820"/>
<rect x="55.42" y="194.42" width="6.38" height="6.7" fill="#C3C1C6"/>
<rect x="62.13" y="194.42" width="6.38" height="6.7" fill="#EBB820"/>
<rect x="68.85" y="194.42" width="6.38" height="6.7" fill="#EBB820"/>
<rect x="75.56" y="194.42" width="6.38" height="6.7" fill="#EBB820"/>
<rect x="82.28" y="194.42" width="6.38" height="6.7" fill="#EBB820"/>
<rect x="88.99" y="194.42" width="6.38" height="6.7" fill="#EBB820"/>
<rect x="95.71" y="194.42" width="6.38" height="6.7" fill="#C3C1C6"/>
<rect x="102.43" y="194.42" width="6.38" height="6.7" fill="#C3C1C6"/>
<rect x="109.14" y="194.42" width="6.38" height="6.7" fill="#C3C1C6"/>
<rect x="115.86" y="194.42" width="6.38" height="6.7" fill="#C3C1C6"/>
<rect x="122.57" y="194.42" width="6.38" height="6.7" fill="#C3C1C6"/>
<rect x="129.29" y="194.42" width="6.38" height="6.7" fill="#EBB820"/>
<rect x="136" y="194.42" width="6.38" height="6.7" fill="#C3C1C6"/>
<rect x="142.72" y="194.42" width="6.38" height="6.7" fill="#EBB820"/>
<rect x="154" y="194.42" width="6.38" height="6.7" fill="#C3C1C6"/>
<rect x="160.65" y="194.42" width="6.38" height="6.7" fill="#C3C1C6"/>
<rect x="167.29" y="194.42" width="6.38" height="6.7" fill="#C3C1C6"/>
<rect x="173.94" y="194.42" width="6.38" height="6.7" fill="#C3C1C6"/>
<rect x="180.59" y="194.42" width="6.38" height="6.7" fill="#C3C1C6"/>
<rect x="187.23" y="194.42" width="6.38" height="6.7" fill="#C3C1C6"/>
<rect x="193.88" y="194.42" width="6.38" height="6.7" fill="#C3C1C6"/>
<rect x="200.53" y="194.42" width="6.38" height="6.7" fill="#C3C1C6"/>
<rect x="207.17" y="194.42" width="6.38" height="6.7" fill="#C3C1C6"/>
<rect x="226.2" y="194.42" width="6.38" height="6.7" fill="#C3C1C6"/>
<rect x="232.92" y="194.42" width="6.38" height="6.7" fill="#C3C1C6"/>
<rect x="239.64" y="194.42" width="6.38" height="6.7" fill="#C3C1C6"/>
<rect x="246.36" y="194.42" width="6.38" height="6.7" fill="#C3C1C6"/>
<rect x="253.08" y="194.42" width="6.38" height="6.7" fill="#C3C1C6"/>
<rect x="259.8" y="194.42" width="6.38" height="6.7" fill="#C3C1C6"/>
<rect x="266.52" y="194.42" width="6.38" height="6.7" fill="#C3C1C6"/>
<rect x="276.9" y="194.42" width="6.38" height="6.7" fill="#C3C1C6"/>
<rect x="283.56" y="194.42" width="6.38" height="6.7" fill="#C3C1C6"/>
<rect x="290.22" y="194.42" width="6.38" height="6.7" fill="#C3C1C6"/>
<rect x="296.88" y="194.42" width="6.38" height="6.7" fill="#C3C1C6"/>
<rect x="303.54" y="194.42" width="6.38" height="6.7" fill="#C3C1C6"/>
<rect x="310.2" y="194.42" width="6.38" height="6.7" fill="#EBB820"/>
<rect x="316.86" y="194.42" width="6.38" height="6.7" fill="#C3C1C6"/>
<rect x="323.52" y="194.42" width="6.38" height="6.7" fill="#C3C1C6"/>
<rect x="330.18" y="194.42" width="6.38" height="6.7" fill="#C3C1C6"/>
<rect x="336.84" y="194.42" width="6.38" height="6.7" fill="#C3C1C6"/>
<rect x="343.5" y="194.42" width="6.38" height="6.7" fill="#C3C1C6"/>
<rect x="350.16" y="194.42" width="6.38" height="6.7" fill="#EBB820"/>
<rect x="356.82" y="194.42" width="6.38" height="6.7" fill="#C3C1C6"/>
<rect x="48.7" y="202.5" width="6.38" height="6.7" fill="#C3C1C6"/>
<rect x="55.42" y="202.5" width="6.38" height="6.7" fill="#A8002C"/>
<rect x="62.13" y="202.5" width="6.38" height="6.7" fill="#C3C1C6"/>
<rect x="68.85" y="202.5" width="6.38" height="6.7" fill="#C3C1C6"/>
<rect x="75.56" y="202.5" width="6.38" height="6.7" fill="#C3C1C6"/>
<rect x="82.28" y="202.5" width="6.38" height="6.7" fill="#C3C1C6"/>
<rect x="88.99" y="202.5" width="6.38" height="6.7" fill="#C3C1C6"/>
<rect x="95.71" y="202.5" width="6.38" height="6.7" fill="#C3C1C6"/>
<rect x="102.43" y="202.5" width="6.38" height="6.7" fill="#C3C1C6"/>
<rect x="109.14" y="202.5" width="6.38" height="6.7" fill="#C3C1C6"/>
<rect x="115.86" y="202.5" width="6.38" height="6.7" fill="#A8002C"/>
<rect x="122.57" y="202.5" width="6.38" height="6.7" fill="#C3C1C6"/>
<rect x="129.29" y="202.5" width="6.38" height="6.7" fill="#C3C1C6"/>
<rect x="136" y="202.5" width="6.38" height="6.7" fill="#C3C1C6"/>
<rect x="142.72" y="202.5" width="6.38" height="6.7" fill="#C3C1C6"/>
<rect x="154" y="202.5" width="6.38" height="6.7" fill="#A8002C"/>
<rect x="160.65" y="202.5" width="6.38" height="6.7" fill="#A8002C"/>
<rect x="167.29" y="202.5" width="6.38" height="6.7" fill="#A8002C"/>
<rect x="173.94" y="202.5" width="6.38" height="6.7" fill="#5A3B16"/>
<rect x="180.59" y="202.5" width="6.38" height="6.7" fill="#A8002C"/>
<rect x="187.23" y="202.5" width="6.38" height="6.7" fill="#5A3B16"/>
<rect x="193.88" y="202.5" width="6.38" height="6.7" fill="#A8002C"/>
<rect x="200.53" y="202.5" width="6.38" height="6.7" fill="#A8002C"/>
<rect x="207.17" y="202.5" width="6.38" height="6.7" fill="#A8002C"/>
<rect x="226.2" y="202.5" width="6.38" height="6.7" fill="#C3C1C6"/>
<rect x="232.92" y="202.5" width="6.38" height="6.7" fill="#C3C1C6"/>
<rect x="239.64" y="202.5" width="6.38" height="6.7" fill="#C3C1C6"/>
<rect x="246.36" y="202.5" width="6.38" height="6.7" fill="#C3C1C6"/>
<rect x="253.08" y="202.5" width="6.38" height="6.7" fill="#C3C1C6"/>
<rect x="259.8" y="202.5" width="6.38" height="6.7" fill="#C3C1C6"/>
<rect x="266.52" y="202.5" width="6.38" height="6.7" fill="#C3C1C6"/>
<rect x="276.9" y="202.5" width="6.38" height="6.7" fill="#C3C1C6"/>
<rect x="283.56" y="202.5" width="6.38" height="6.7" fill="#C3C1C6"/>
<rect x="290.22" y="202.5" width="6.38" height="6.7" fill="#C3C1C6"/>
<rect x="296.88" y="202.5" width="6.38" height="6.7" fill="#C3C1C6"/>
<rect x="303.54" y="202.5" width="6.38" height="6.7" fill="#A8002C"/>
<rect x="310.2" y="202.5" width="6.38" height="6.7" fill="#C3C1C6"/>
<rect x="316.86" y="202.5" width="6.38" height="6.7" fill="#C3C1C6"/>
<rect x="323.52" y="202.5" width="6.38" height="6.7" fill="#C3C1C6"/>
<rect x="330.18" y="202.5" width="6.38" height="6.7" fill="#C3C1C6"/>
<rect x="336.84" y="202.5" width="6.38" height="6.7" fill="#C3C1C6"/>
<rect x="343.5" y="202.5" width="6.38" height="6.7" fill="#C3C1C6"/>
<rect x="350.16" y="202.5" width="6.38" height="6.7" fill="#C3C1C6"/>
<rect x="356.82" y="202.5" width="6.38" height="6.7" fill="#C3C1C6"/>
<rect x="48.7" y="210.58" width="6.38" height="6.7" fill="#5DA0DC"/>
<rect x="55.42" y="210.58" width="6.38" height="6.7" fill="#5DA0DC"/>
<rect x="62.13" y="210.58" width="6.38" height="6.7" fill="#5DA0DC"/>
<rect x="68.85" y="210.58" width="6.38" height="6.7" fill="#C3C1C6"/>
<rect x="75.56" y="210.58" width="6.38" height="6.7" fill="#5DA0DC"/>
<rect x="82.28" y="210.58" width="6.38" height="6.7" fill="#5DA0DC"/>
<rect x="88.99" y="210.58" width="6.38" height="6.7" fill="#5DA0DC"/>
<rect x="95.71" y="210.58" width="6.38" height="6.7" fill="#213D78"/>
<rect x="102.43" y="210.58" width="6.38" height="6.7" fill="#5DA0DC"/>
<rect x="109.14" y="210.58" width="6.38" height="6.7" fill="#5DA0DC"/>
<rect x="115.86" y="210.58" width="6.38" height="6.7" fill="#5DA0DC"/>
<rect x="122.57" y="210.58" width="6.38" height="6.7" fill="#213D78"/>
<rect x="129.29" y="210.58" width="6.38" height="6.7" fill="#5DA0DC"/>
<rect x="136" y="210.58" width="6.38" height="6.7" fill="#213D78"/>
<rect x="142.72" y="210.58" width="6.38" height="6.7" fill="#5DA0DC"/>
<rect x="154" y="210.58" width="6.38" height="6.7" fill="#213D78"/>
<rect x="160.65" y="210.58" width="6.38" height="6.7" fill="#5DA0DC"/>
<rect x="167.29" y="210.58" width="6.38" height="6.7" fill="#5DA0DC"/>
<rect x="173.94" y="210.58" width="6.38" height="6.7" fill="#C3C1C6"/>
<rect x="180.59" y="210.58" width="6.38" height="6.7" fill="#C3C1C6"/>
<rect x="187.23" y="210.58" width="6.38" height="6.7" fill="#C3C1C6"/>
<rect x="193.88" y="210.58" width="6.38" height="6.7" fill="#C3C1C6"/>
<rect x="200.53" y="210.58" width="6.38" height="6.7" fill="#C3C1C6"/>
<rect x="207.17" y="210.58" width="6.38" height="6.7" fill="#C3C1C6"/>
<rect x="213.82" y="210.58" width="6.38" height="6.7" fill="#C3C1C6"/>
<rect x="226.2" y="210.58" width="6.38" height="6.7" fill="#C3C1C6"/>
<rect x="232.92" y="210.58" width="6.38" height="6.7" fill="#C3C1C6"/>
<rect x="239.64" y="210.58" width="6.38" height="6.7" fill="#C3C1C6"/>
<rect x="246.36" y="210.58" width="6.38" height="6.7" fill="#C3C1C6"/>
<rect x="253.08" y="210.58" width="6.38" height="6.7" fill="#C3C1C6"/>
<rect x="259.8" y="210.58" width="6.38" height="6.7" fill="#C3C1C6"/>
<rect x="266.52" y="210.58" width="6.38" height="6.7" fill="#C3C1C6"/>
<rect x="276.9" y="210.58" width="6.38" height="6.7" fill="#C3C1C6"/>
<rect x="283.56" y="210.58" width="6.38" height="6.7" fill="#C3C1C6"/>
<rect x="290.22" y="210.58" width="6.38" height="6.7" fill="#C3C1C6"/>
<rect x="296.88" y="210.58" width="6.38" height="6.7" fill="#C3C1C6"/>
<rect x="303.54" y="210.58" width="6.38" height="6.7" fill="#C3C1C6"/>
<rect x="310.2" y="210.58" width="6.38" height="6.7" fill="#C3C1C6"/>
<rect x="316.86" y="210.58" width="6.38" height="6.7" fill="#C3C1C6"/>
<rect x="323.52" y="210.58" width="6.38" height="6.7" fill="#C3C1C6"/>
<rect x="336.84" y="210.58" width="6.38" height="6.7" fill="#C3C1C6"/>
<rect x="343.5" y="210.58" width="6.38" height="6.7" fill="#C3C1C6"/>
<rect x="350.16" y="210.58" width="6.38" height="6.7" fill="#C3C1C6"/>
<rect x="356.82" y="210.58" width="6.38" height="6.7" fill="#C3C1C6"/>
<rect x="48.7" y="218.66" width="6.38" height="6.7" fill="#C3C1C6"/>
<rect x="55.42" y="218.66" width="6.38" height="6.7" fill="#C3C1C6"/>
<rect x="62.13" y="218.66" width="6.38" height="6.7" fill="#C3C1C6"/>
<rect x="68.85" y="218.66" width="6.38" height="6.7" fill="#C3C1C6"/>
<rect x="75.56" y="218.66" width="6.38" height="6.7" fill="#A8002C"/>
<rect x="82.28" y="218.66" width="6.38" height="6.7" fill="#A8002C"/>
<rect x="88.99" y="218.66" width="6.38" height="6.7" fill="#C3C1C6"/>
<rect x="95.71" y="218.66" width="6.38" height="6.7" fill="#C3C1C6"/>
<rect x="102.43" y="218.66" width="6.38" height="6.7" fill="#C3C1C6"/>
<rect x="109.14" y="218.66" width="6.38" height="6.7" fill="#A8002C"/>
<rect x="115.86" y="218.66" width="6.38" height="6.7" fill="#A8002C"/>
<rect x="122.57" y="218.66" width="6.38" height="6.7" fill="#C3C1C6"/>
<rect x="129.29" y="218.66" width="6.38" height="6.7" fill="#C3C1C6"/>
<rect x="136" y="218.66" width="6.38" height="6.7" fill="#A8002C"/>
<rect x="142.72" y="218.66" width="6.38" height="6.7" fill="#A8002C"/>
<rect x="154" y="218.66" width="6.38" height="6.7" fill="#C3C1C6"/>
<rect x="160.65" y="218.66" width="6.38" height="6.7" fill="#C3C1C6"/>
<rect x="167.29" y="218.66" width="6.38" height="6.7" fill="#C3C1C6"/>
<rect x="173.94" y="218.66" width="6.38" height="6.7" fill="#C3C1C6"/>
<rect x="180.59" y="218.66" width="6.38" height="6.7" fill="#A8002C"/>
<rect x="187.23" y="218.66" width="6.38" height="6.7" fill="#C3C1C6"/>
<rect x="193.88" y="218.66" width="6.38" height="6.7" fill="#A8002C"/>
<rect x="200.53" y="218.66" width="6.38" height="6.7" fill="#A8002C"/>
<rect x="207.17" y="218.66" width="6.38" height="6.7" fill="#A8002C"/>
<rect x="226.2" y="218.66" width="6.38" height="6.7" fill="#C3C1C6"/>
<rect x="232.92" y="218.66" width="6.38" height="6.7" fill="#C3C1C6"/>
<rect x="239.64" y="218.66" width="6.38" height="6.7" fill="#C3C1C6"/>
<rect x="246.36" y="218.66" width="6.38" height="6.7" fill="#C3C1C6"/>
<rect x="253.08" y="218.66" width="6.38" height="6.7" fill="#C3C1C6"/>
<rect x="259.8" y="218.66" width="6.38" height="6.7" fill="#C3C1C6"/>
<rect x="266.52" y="218.66" width="6.38" height="6.7" fill="#C3C1C6"/>
<rect x="276.9" y="218.66" width="6.38" height="6.7" fill="#A8002C"/>
<rect x="283.56" y="218.66" width="6.38" height="6.7" fill="#C3C1C6"/>
<rect x="290.22" y="218.66" width="6.38" height="6.7" fill="#C3C1C6"/>
<rect x="296.88" y="218.66" width="6.38" height="6.7" fill="#C3C1C6"/>
<rect x="303.54" y="218.66" width="6.38" height="6.7" fill="#C3C1C6"/>
<rect x="310.2" y="218.66" width="6.38" height="6.7" fill="#C3C1C6"/>
<rect x="316.86" y="218.66" width="6.38" height="6.7" fill="#C3C1C6"/>
<rect x="323.52" y="218.66" width="6.38" height="6.7" fill="#C3C1C6"/>
<rect x="330.18" y="218.66" width="6.38" height="6.7" fill="#C3C1C6"/>
<rect x="336.84" y="218.66" width="6.38" height="6.7" fill="#C3C1C6"/>
<rect x="343.5" y="218.66" width="6.38" height="6.7" fill="#C3C1C6"/>
<rect x="350.16" y="218.66" width="6.38" height="6.7" fill="#C3C1C6"/>
<rect x="356.82" y="218.66" width="6.38" height="6.7" fill="#C3C1C6"/>
<rect x="48.7" y="226.74" width="6.38" height="6.7" fill="#5DA0DC"/>
<rect x="55.42" y="226.74" width="6.38" height="6.7" fill="#C3C1C6"/>
<rect x="62.13" y="226.74" width="6.38" height="6.7" fill="#C3C1C6"/>
<rect x="68.85" y="226.74" width="6.38" height="6.7" fill="#C3C1C6"/>
<rect x="75.56" y="226.74" width="6.38" height="6.7" fill="#C3C1C6"/>
<rect x="82.28" y="226.74" width="6.38" height="6.7" fill="#C3C1C6"/>
<rect x="88.99" y="226.74" width="6.38" height="6.7" fill="#C3C1C6"/>
<rect x="95.71" y="226.74" width="6.38" height="6.7" fill="#5DA0DC"/>
<rect x="102.43" y="226.74" width="6.38" height="6.7" fill="#5DA0DC"/>
<rect x="109.14" y="226.74" width="6.38" height="6.7" fill="#5DA0DC"/>
<rect x="115.86" y="226.74" width="6.38" height="6.7" fill="#C3C1C6"/>
<rect x="122.57" y="226.74" width="6.38" height="6.7" fill="#C3C1C6"/>
<rect x="129.29" y="226.74" width="6.38" height="6.7" fill="#C3C1C6"/>
<rect x="136" y="226.74" width="6.38" height="6.7" fill="#C3C1C6"/>
<rect x="142.72" y="226.74" width="6.38" height="6.7" fill="#C3C1C6"/>
<rect x="154" y="226.74" width="6.38" height="6.7" fill="#C3C1C6"/>
<rect x="160.65" y="226.74" width="6.38" height="6.7" fill="#C3C1C6"/>
<rect x="167.29" y="226.74" width="6.38" height="6.7" fill="#C3C1C6"/>
<rect x="173.94" y="226.74" width="6.38" height="6.7" fill="#5DA0DC"/>
<rect x="180.59" y="226.74" width="6.38" height="6.7" fill="#C3C1C6"/>
<rect x="187.23" y="226.74" width="6.38" height="6.7" fill="#C3C1C6"/>
<rect x="193.88" y="226.74" width="6.38" height="6.7" fill="#5DA0DC"/>
<rect x="200.53" y="226.74" width="6.38" height="6.7" fill="#C3C1C6"/>
<rect x="207.17" y="226.74" width="6.38" height="6.7" fill="#5DA0DC"/>
<rect x="213.82" y="226.74" width="6.38" height="6.7" fill="#C3C1C6"/>
<rect x="226.2" y="226.74" width="6.38" height="6.7" fill="#C3C1C6"/>
<rect x="232.92" y="226.74" width="6.38" height="6.7" fill="#C3C1C6"/>
<rect x="239.64" y="226.74" width="6.38" height="6.7" fill="#C3C1C6"/>
<rect x="246.36" y="226.74" width="6.38" height="6.7" fill="#C3C1C6"/>
<rect x="253.08" y="226.74" width="6.38" height="6.7" fill="#5DA0DC"/>
<rect x="259.8" y="226.74" width="6.38" height="6.7" fill="#C3C1C6"/>
<rect x="266.52" y="226.74" width="6.38" height="6.7" fill="#C3C1C6"/>
<rect x="276.9" y="226.74" width="6.38" height="6.7" fill="#C3C1C6"/>
<rect x="283.56" y="226.74" width="6.38" height="6.7" fill="#C3C1C6"/>
<rect x="290.22" y="226.74" width="6.38" height="6.7" fill="#C3C1C6"/>
<rect x="296.88" y="226.74" width="6.38" height="6.7" fill="#C3C1C6"/>
<rect x="303.54" y="226.74" width="6.38" height="6.7" fill="#C3C1C6"/>
<rect x="310.2" y="226.74" width="6.38" height="6.7" fill="#5DA0DC"/>
<rect x="316.86" y="226.74" width="6.38" height="6.7" fill="#5DA0DC"/>
<rect x="323.52" y="226.74" width="6.38" height="6.7" fill="#5DA0DC"/>
<rect x="330.18" y="226.74" width="6.38" height="6.7" fill="#C3C1C6"/>
<rect x="336.84" y="226.74" width="6.38" height="6.7" fill="#5DA0DC"/>
<rect x="343.5" y="226.74" width="6.38" height="6.7" fill="#C3C1C6"/>
<rect x="350.16" y="226.74" width="6.38" height="6.7" fill="#C3C1C6"/>
<rect x="356.82" y="226.74" width="6.38" height="6.7" fill="#C3C1C6"/>
<rect x="48.7" y="234.82" width="6.38" height="6.7" fill="#C3C1C6"/>
<rect x="55.42" y="234.82" width="6.38" height="6.7" fill="#C3C1C6"/>
<rect x="62.13" y="234.82" width="6.38" height="6.7" fill="#C3C1C6"/>
<rect x="68.85" y="234.82" width="6.38" height="6.7" fill="#C3C1C6"/>
<rect x="75.56" y="234.82" width="6.38" height="6.7" fill="#C3C1C6"/>
<rect x="82.28" y="234.82" width="6.38" height="6.7" fill="#C3C1C6"/>
<rect x="88.99" y="234.82" width="6.38" height="6.7" fill="#C3C1C6"/>
<rect x="95.71" y="234.82" width="6.38" height="6.7" fill="#5DA0DC"/>
<rect x="102.43" y="234.82" width="6.38" height="6.7" fill="#5DA0DC"/>
<rect x="109.14" y="234.82" width="6.38" height="6.7" fill="#C3C1C6"/>
<rect x="115.86" y="234.82" width="6.38" height="6.7" fill="#C3C1C6"/>
<rect x="122.57" y="234.82" width="6.38" height="6.7" fill="#C3C1C6"/>
<rect x="129.29" y="234.82" width="6.38" height="6.7" fill="#5DA0DC"/>
<rect x="136" y="234.82" width="6.38" height="6.7" fill="#5DA0DC"/>
<rect x="142.72" y="234.82" width="6.38" height="6.7" fill="#5DA0DC"/>
<rect x="154" y="234.82" width="6.38" height="6.7" fill="#5DA0DC"/>
<rect x="160.65" y="234.82" width="6.38" height="6.7" fill="#C3C1C6"/>
<rect x="167.29" y="234.82" width="6.38" height="6.7" fill="#C3C1C6"/>
<rect x="173.94" y="234.82" width="6.38" height="6.7" fill="#C3C1C6"/>
<rect x="180.59" y="234.82" width="6.38" height="6.7" fill="#C3C1C6"/>
<rect x="187.23" y="234.82" width="6.38" height="6.7" fill="#C3C1C6"/>
<rect x="193.88" y="234.82" width="6.38" height="6.7" fill="#C3C1C6"/>
<rect x="200.53" y="234.82" width="6.38" height="6.7" fill="#C3C1C6"/>
<rect x="207.17" y="234.82" width="6.38" height="6.7" fill="#5DA0DC"/>
<rect x="213.82" y="234.82" width="6.38" height="6.7" fill="#5DA0DC"/>
<rect x="226.2" y="234.82" width="6.38" height="6.7" fill="#C3C1C6"/>
<rect x="232.92" y="234.82" width="6.38" height="6.7" fill="#C3C1C6"/>
<rect x="239.64" y="234.82" width="6.38" height="6.7" fill="#C3C1C6"/>
<rect x="246.36" y="234.82" width="6.38" height="6.7" fill="#C3C1C6"/>
<rect x="253.08" y="234.82" width="6.38" height="6.7" fill="#C3C1C6"/>
<rect x="259.8" y="234.82" width="6.38" height="6.7" fill="#C3C1C6"/>
<rect x="266.52" y="234.82" width="6.38" height="6.7" fill="#C3C1C6"/>
<rect x="276.9" y="234.82" width="6.38" height="6.7" fill="#C3C1C6"/>
<rect x="283.56" y="234.82" width="6.38" height="6.7" fill="#C3C1C6"/>
<rect x="290.22" y="234.82" width="6.38" height="6.7" fill="#C3C1C6"/>
<rect x="296.88" y="234.82" width="6.38" height="6.7" fill="#C3C1C6"/>
<rect x="303.54" y="234.82" width="6.38" height="6.7" fill="#C3C1C6"/>
<rect x="310.2" y="234.82" width="6.38" height="6.7" fill="#C3C1C6"/>
<rect x="316.86" y="234.82" width="6.38" height="6.7" fill="#C3C1C6"/>
<rect x="323.52" y="234.82" width="6.38" height="6.7" fill="#C3C1C6"/>
<rect x="330.18" y="234.82" width="6.38" height="6.7" fill="#C3C1C6"/>
<rect x="336.84" y="234.82" width="6.38" height="6.7" fill="#C3C1C6"/>
<rect x="343.5" y="234.82" width="6.38" height="6.7" fill="#C3C1C6"/>
<rect x="350.16" y="234.82" width="6.38" height="6.7" fill="#C3C1C6"/>
<rect x="356.82" y="234.82" width="6.38" height="6.7" fill="#C3C1C6"/>
<rect x="48.7" y="242.9" width="6.38" height="6.7" fill="#C3C1C6"/>
<rect x="55.42" y="242.9" width="6.38" height="6.7" fill="#C3C1C6"/>
<rect x="62.13" y="242.9" width="6.38" height="6.7" fill="#C3C1C6"/>
<rect x="68.85" y="242.9" width="6.38" height="6.7" fill="#C3C1C6"/>
<rect x="75.56" y="242.9" width="6.38" height="6.7" fill="#C3C1C6"/>
<rect x="82.28" y="242.9" width="6.38" height="6.7" fill="#5DA0DC"/>
<rect x="88.99" y="242.9" width="6.38" height="6.7" fill="#C3C1C6"/>
<rect x="95.71" y="242.9" width="6.38" height="6.7" fill="#C3C1C6"/>
<rect x="102.43" y="242.9" width="6.38" height="6.7" fill="#C3C1C6"/>
<rect x="109.14" y="242.9" width="6.38" height="6.7" fill="#C3C1C6"/>
<rect x="115.86" y="242.9" width="6.38" height="6.7" fill="#C3C1C6"/>
<rect x="122.57" y="242.9" width="6.38" height="6.7" fill="#5DA0DC"/>
<rect x="129.29" y="242.9" width="6.38" height="6.7" fill="#C3C1C6"/>
<rect x="136" y="242.9" width="6.38" height="6.7" fill="#C3C1C6"/>
<rect x="142.72" y="242.9" width="6.38" height="6.7" fill="#C3C1C6"/>
<rect x="154" y="242.9" width="6.38" height="6.7" fill="#C3C1C6"/>
<rect x="160.65" y="242.9" width="6.38" height="6.7" fill="#C3C1C6"/>
<rect x="167.29" y="242.9" width="6.38" height="6.7" fill="#C3C1C6"/>
<rect x="173.94" y="242.9" width="6.38" height="6.7" fill="#C3C1C6"/>
<rect x="180.59" y="242.9" width="6.38" height="6.7" fill="#C3C1C6"/>
<rect x="187.23" y="242.9" width="6.38" height="6.7" fill="#C3C1C6"/>
<rect x="193.88" y="242.9" width="6.38" height="6.7" fill="#C3C1C6"/>
<rect x="200.53" y="242.9" width="6.38" height="6.7" fill="#C3C1C6"/>
<rect x="207.17" y="242.9" width="6.38" height="6.7" fill="#5DA0DC"/>
<rect x="213.82" y="242.9" width="6.38" height="6.7" fill="#5DA0DC"/>
<rect x="226.2" y="242.9" width="6.38" height="6.7" fill="#C3C1C6"/>
<rect x="232.92" y="242.9" width="6.38" height="6.7" fill="#C3C1C6"/>
<rect x="239.64" y="242.9" width="6.38" height="6.7" fill="#C3C1C6"/>
<rect x="246.36" y="242.9" width="6.38" height="6.7" fill="#C3C1C6"/>
<rect x="253.08" y="242.9" width="6.38" height="6.7" fill="#C3C1C6"/>
<rect x="259.8" y="242.9" width="6.38" height="6.7" fill="#C3C1C6"/>
<rect x="266.52" y="242.9" width="6.38" height="6.7" fill="#C3C1C6"/>
<rect x="276.9" y="242.9" width="6.38" height="6.7" fill="#C3C1C6"/>
<rect x="283.56" y="242.9" width="6.38" height="6.7" fill="#C3C1C6"/>
<rect x="290.22" y="242.9" width="6.38" height="6.7" fill="#C3C1C6"/>
<rect x="296.88" y="242.9" width="6.38" height="6.7" fill="#5DA0DC"/>
<rect x="303.54" y="242.9" width="6.38" height="6.7" fill="#C3C1C6"/>
<rect x="310.2" y="242.9" width="6.38" height="6.7" fill="#5DA0DC"/>
<rect x="316.86" y="242.9" width="6.38" height="6.7" fill="#C3C1C6"/>
<rect x="323.52" y="242.9" width="6.38" height="6.7" fill="#C3C1C6"/>
<rect x="330.18" y="242.9" width="6.38" height="6.7" fill="#C3C1C6"/>
<rect x="336.84" y="242.9" width="6.38" height="6.7" fill="#C3C1C6"/>
<rect x="343.5" y="242.9" width="6.38" height="6.7" fill="#C3C1C6"/>
<rect x="350.16" y="242.9" width="6.38" height="6.7" fill="#C3C1C6"/>
<rect x="356.82" y="242.9" width="6.38" height="6.7" fill="#C3C1C6"/>
<rect x="48.7" y="250.98" width="6.38" height="6.7" fill="#C3C1C6"/>
<rect x="55.42" y="250.98" width="6.38" height="6.7" fill="#C3C1C6"/>
<rect x="62.13" y="250.98" width="6.38" height="6.7" fill="#C3C1C6"/>
<rect x="68.85" y="250.98" width="6.38" height="6.7" fill="#5DA0DC"/>
<rect x="75.56" y="250.98" width="6.38" height="6.7" fill="#C3C1C6"/>
<rect x="82.28" y="250.98" width="6.38" height="6.7" fill="#C3C1C6"/>
<rect x="88.99" y="250.98" width="6.38" height="6.7" fill="#C3C1C6"/>
<rect x="95.71" y="250.98" width="6.38" height="6.7" fill="#C3C1C6"/>
<rect x="102.43" y="250.98" width="6.38" height="6.7" fill="#C3C1C6"/>
<rect x="109.14" y="250.98" width="6.38" height="6.7" fill="#C3C1C6"/>
<rect x="115.86" y="250.98" width="6.38" height="6.7" fill="#C3C1C6"/>
<rect x="122.57" y="250.98" width="6.38" height="6.7" fill="#C3C1C6"/>
<rect x="129.29" y="250.98" width="6.38" height="6.7" fill="#C3C1C6"/>
<rect x="136" y="250.98" width="6.38" height="6.7" fill="#C3C1C6"/>
<rect x="142.72" y="250.98" width="6.38" height="6.7" fill="#C3C1C6"/>
<rect x="154" y="250.98" width="6.38" height="6.7" fill="#C3C1C6"/>
<rect x="160.65" y="250.98" width="6.38" height="6.7" fill="#C3C1C6"/>
<rect x="167.29" y="250.98" width="6.38" height="6.7" fill="#C3C1C6"/>
<rect x="173.94" y="250.98" width="6.38" height="6.7" fill="#C3C1C6"/>
<rect x="180.59" y="250.98" width="6.38" height="6.7" fill="#C3C1C6"/>
<rect x="187.23" y="250.98" width="6.38" height="6.7" fill="#C3C1C6"/>
<rect x="193.88" y="250.98" width="6.38" height="6.7" fill="#C3C1C6"/>
<rect x="200.53" y="250.98" width="6.38" height="6.7" fill="#C3C1C6"/>
<rect x="207.17" y="250.98" width="6.38" height="6.7" fill="#C3C1C6"/>
<rect x="213.82" y="250.98" width="6.38" height="6.7" fill="#C3C1C6"/>
<rect x="226.2" y="250.98" width="6.38" height="6.7" fill="#C3C1C6"/>
<rect x="232.92" y="250.98" width="6.38" height="6.7" fill="#C3C1C6"/>
<rect x="239.64" y="250.98" width="6.38" height="6.7" fill="#C3C1C6"/>
<rect x="246.36" y="250.98" width="6.38" height="6.7" fill="#C3C1C6"/>
<rect x="253.08" y="250.98" width="6.38" height="6.7" fill="#C3C1C6"/>
<rect x="259.8" y="250.98" width="6.38" height="6.7" fill="#C3C1C6"/>
<rect x="266.52" y="250.98" width="6.38" height="6.7" fill="#C3C1C6"/>
<rect x="276.9" y="250.98" width="6.38" height="6.7" fill="#C3C1C6"/>
<rect x="283.56" y="250.98" width="6.38" height="6.7" fill="#C3C1C6"/>
<rect x="290.22" y="250.98" width="6.38" height="6.7" fill="#C3C1C6"/>
<rect x="296.88" y="250.98" width="6.38" height="6.7" fill="#C3C1C6"/>
<rect x="303.54" y="250.98" width="6.38" height="6.7" fill="#C3C1C6"/>
<rect x="310.2" y="250.98" width="6.38" height="6.7" fill="#213D78"/>
<rect x="316.86" y="250.98" width="6.38" height="6.7" fill="#C3C1C6"/>
<rect x="323.52" y="250.98" width="6.38" height="6.7" fill="#C3C1C6"/>
<rect x="330.18" y="250.98" width="6.38" height="6.7" fill="#C3C1C6"/>
<rect x="336.84" y="250.98" width="6.38" height="6.7" fill="#C3C1C6"/>
<rect x="343.5" y="250.98" width="6.38" height="6.7" fill="#C3C1C6"/>
<rect x="350.16" y="250.98" width="6.38" height="6.7" fill="#5DA0DC"/>
<rect x="356.82" y="250.98" width="6.38" height="6.7" fill="#213D78"/>
<rect x="48.7" y="259.06" width="6.38" height="6.7" fill="#5DA0DC"/>
<rect x="55.42" y="259.06" width="6.38" height="6.7" fill="#5DA0DC"/>
<rect x="62.13" y="259.06" width="6.38" height="6.7" fill="#C3C1C6"/>
<rect x="68.85" y="259.06" width="6.38" height="6.7" fill="#C3C1C6"/>
<rect x="75.56" y="259.06" width="6.38" height="6.7" fill="#C3C1C6"/>
<rect x="82.28" y="259.06" width="6.38" height="6.7" fill="#C3C1C6"/>
<rect x="88.99" y="259.06" width="6.38" height="6.7" fill="#C3C1C6"/>
<rect x="95.71" y="259.06" width="6.38" height="6.7" fill="#C3C1C6"/>
<rect x="102.43" y="259.06" width="6.38" height="6.7" fill="#C3C1C6"/>
<rect x="109.14" y="259.06" width="6.38" height="6.7" fill="#C3C1C6"/>
<rect x="115.86" y="259.06" width="6.38" height="6.7" fill="#C3C1C6"/>
<rect x="122.57" y="259.06" width="6.38" height="6.7" fill="#C3C1C6"/>
<rect x="129.29" y="259.06" width="6.38" height="6.7" fill="#C3C1C6"/>
<rect x="136" y="259.06" width="6.38" height="6.7" fill="#C3C1C6"/>
<rect x="142.72" y="259.06" width="6.38" height="6.7" fill="#C3C1C6"/>
<rect x="154" y="259.06" width="6.38" height="6.7" fill="#5DA0DC"/>
<rect x="160.65" y="259.06" width="6.38" height="6.7" fill="#C3C1C6"/>
<rect x="167.29" y="259.06" width="6.38" height="6.7" fill="#C3C1C6"/>
<rect x="173.94" y="259.06" width="6.38" height="6.7" fill="#C3C1C6"/>
<rect x="180.59" y="259.06" width="6.38" height="6.7" fill="#C3C1C6"/>
<rect x="187.23" y="259.06" width="6.38" height="6.7" fill="#C3C1C6"/>
<rect x="193.88" y="259.06" width="6.38" height="6.7" fill="#C3C1C6"/>
<rect x="200.53" y="259.06" width="6.38" height="6.7" fill="#C3C1C6"/>
<rect x="207.17" y="259.06" width="6.38" height="6.7" fill="#C3C1C6"/>
<rect x="213.82" y="259.06" width="6.38" height="6.7" fill="#C3C1C6"/>
<rect x="226.2" y="259.06" width="6.38" height="6.7" fill="#C3C1C6"/>
<rect x="232.92" y="259.06" width="6.38" height="6.7" fill="#C3C1C6"/>
<rect x="239.64" y="259.06" width="6.38" height="6.7" fill="#C3C1C6"/>
<rect x="246.36" y="259.06" width="6.38" height="6.7" fill="#C3C1C6"/>
<rect x="253.08" y="259.06" width="6.38" height="6.7" fill="#C3C1C6"/>
<rect x="259.8" y="259.06" width="6.38" height="6.7" fill="#C3C1C6"/>
<rect x="266.52" y="259.06" width="6.38" height="6.7" fill="#C3C1C6"/>
<rect x="276.9" y="259.06" width="6.38" height="6.7" fill="#C3C1C6"/>
<rect x="283.56" y="259.06" width="6.38" height="6.7" fill="#C3C1C6"/>
<rect x="290.22" y="259.06" width="6.38" height="6.7" fill="#C3C1C6"/>
<rect x="296.88" y="259.06" width="6.38" height="6.7" fill="#C3C1C6"/>
<rect x="303.54" y="259.06" width="6.38" height="6.7" fill="#C3C1C6"/>
<rect x="310.2" y="259.06" width="6.38" height="6.7" fill="#5DA0DC"/>
<rect x="316.86" y="259.06" width="6.38" height="6.7" fill="#C3C1C6"/>
<rect x="323.52" y="259.06" width="6.38" height="6.7" fill="#C3C1C6"/>
<rect x="330.18" y="259.06" width="6.38" height="6.7" fill="#C3C1C6"/>
<rect x="336.84" y="259.06" width="6.38" height="6.7" fill="#C3C1C6"/>
<rect x="343.5" y="259.06" width="6.38" height="6.7" fill="#C3C1C6"/>
<rect x="350.16" y="259.06" width="6.38" height="6.7" fill="#C3C1C6"/>
<rect x="356.82" y="259.06" width="6.38" height="6.7" fill="#C3C1C6"/>
<rect x="48.7" y="267.14" width="6.38" height="6.7" fill="#C3C1C6"/>
<rect x="55.42" y="267.14" width="6.38" height="6.7" fill="#C3C1C6"/>
<rect x="62.13" y="267.14" width="6.38" height="6.7" fill="#213D78"/>
<rect x="68.85" y="267.14" width="6.38" height="6.7" fill="#C3C1C6"/>
<rect x="75.56" y="267.14" width="6.38" height="6.7" fill="#5DA0DC"/>
<rect x="82.28" y="267.14" width="6.38" height="6.7" fill="#C3C1C6"/>
<rect x="88.99" y="267.14" width="6.38" height="6.7" fill="#C3C1C6"/>
<rect x="95.71" y="267.14" width="6.38" height="6.7" fill="#C3C1C6"/>
<rect x="102.43" y="267.14" width="6.38" height="6.7" fill="#C3C1C6"/>
<rect x="109.14" y="267.14" width="6.38" height="6.7" fill="#C3C1C6"/>
<rect x="115.86" y="267.14" width="6.38" height="6.7" fill="#C3C1C6"/>
<rect x="122.57" y="267.14" width="6.38" height="6.7" fill="#C3C1C6"/>
<rect x="129.29" y="267.14" width="6.38" height="6.7" fill="#C3C1C6"/>
<rect x="136" y="267.14" width="6.38" height="6.7" fill="#C3C1C6"/>
<rect x="142.72" y="267.14" width="6.38" height="6.7" fill="#5DA0DC"/>
<rect x="154" y="267.14" width="6.38" height="6.7" fill="#C3C1C6"/>
<rect x="160.65" y="267.14" width="6.38" height="6.7" fill="#C3C1C6"/>
<rect x="167.29" y="267.14" width="6.38" height="6.7" fill="#C3C1C6"/>
<rect x="173.94" y="267.14" width="6.38" height="6.7" fill="#C3C1C6"/>
<rect x="180.59" y="267.14" width="6.38" height="6.7" fill="#C3C1C6"/>
<rect x="187.23" y="267.14" width="6.38" height="6.7" fill="#C3C1C6"/>
<rect x="193.88" y="267.14" width="6.38" height="6.7" fill="#C3C1C6"/>
<rect x="200.53" y="267.14" width="6.38" height="6.7" fill="#C3C1C6"/>
<rect x="207.17" y="267.14" width="6.38" height="6.7" fill="#5DA0DC"/>
<rect x="213.82" y="267.14" width="6.38" height="6.7" fill="#C3C1C6"/>
<rect x="226.2" y="267.14" width="6.38" height="6.7" fill="#C3C1C6"/>
<rect x="232.92" y="267.14" width="6.38" height="6.7" fill="#C3C1C6"/>
<rect x="239.64" y="267.14" width="6.38" height="6.7" fill="#C3C1C6"/>
<rect x="246.36" y="267.14" width="6.38" height="6.7" fill="#C3C1C6"/>
<rect x="253.08" y="267.14" width="6.38" height="6.7" fill="#C3C1C6"/>
<rect x="259.8" y="267.14" width="6.38" height="6.7" fill="#C3C1C6"/>
<rect x="266.52" y="267.14" width="6.38" height="6.7" fill="#C3C1C6"/>
<rect x="276.9" y="267.14" width="6.38" height="6.7" fill="#C3C1C6"/>
<rect x="283.56" y="267.14" width="6.38" height="6.7" fill="#C3C1C6"/>
<rect x="290.22" y="267.14" width="6.38" height="6.7" fill="#C3C1C6"/>
<rect x="296.88" y="267.14" width="6.38" height="6.7" fill="#C3C1C6"/>
<rect x="303.54" y="267.14" width="6.38" height="6.7" fill="#C3C1C6"/>
<rect x="310.2" y="267.14" width="6.38" height="6.7" fill="#C3C1C6"/>
<rect x="316.86" y="267.14" width="6.38" height="6.7" fill="#C3C1C6"/>
<rect x="323.52" y="267.14" width="6.38" height="6.7" fill="#C3C1C6"/>
<rect x="330.18" y="267.14" width="6.38" height="6.7" fill="#C3C1C6"/>
<rect x="336.84" y="267.14" width="6.38" height="6.7" fill="#C3C1C6"/>
<rect x="343.5" y="267.14" width="6.38" height="6.7" fill="#C3C1C6"/>
<rect x="350.16" y="267.14" width="6.38" height="6.7" fill="#C3C1C6"/>
<rect x="356.82" y="267.14" width="6.38" height="6.7" fill="#C3C1C6"/>
<rect x="48.7" y="275.22" width="6.38" height="6.7" fill="#C3C1C6"/>
<rect x="55.42" y="275.22" width="6.38" height="6.7" fill="#C3C1C6"/>
<rect x="62.13" y="275.22" width="6.38" height="6.7" fill="#C3C1C6"/>
<rect x="68.85" y="275.22" width="6.38" height="6.7" fill="#C3C1C6"/>
<rect x="75.56" y="275.22" width="6.38" height="6.7" fill="#5DA0DC"/>
<rect x="82.28" y="275.22" width="6.38" height="6.7" fill="#C3C1C6"/>
<rect x="88.99" y="275.22" width="6.38" height="6.7" fill="#C3C1C6"/>
<rect x="95.71" y="275.22" width="6.38" height="6.7" fill="#C3C1C6"/>
<rect x="102.43" y="275.22" width="6.38" height="6.7" fill="#C3C1C6"/>
<rect x="109.14" y="275.22" width="6.38" height="6.7" fill="#C3C1C6"/>
<rect x="115.86" y="275.22" width="6.38" height="6.7" fill="#C3C1C6"/>
<rect x="122.57" y="275.22" width="6.38" height="6.7" fill="#5DA0DC"/>
<rect x="129.29" y="275.22" width="6.38" height="6.7" fill="#C3C1C6"/>
<rect x="136" y="275.22" width="6.38" height="6.7" fill="#C3C1C6"/>
<rect x="142.72" y="275.22" width="6.38" height="6.7" fill="#C3C1C6"/>
<rect x="154" y="275.22" width="6.38" height="6.7" fill="#C3C1C6"/>
<rect x="160.65" y="275.22" width="6.38" height="6.7" fill="#C3C1C6"/>
<rect x="167.29" y="275.22" width="6.38" height="6.7" fill="#C3C1C6"/>
<rect x="173.94" y="275.22" width="6.38" height="6.7" fill="#C3C1C6"/>
<rect x="180.59" y="275.22" width="6.38" height="6.7" fill="#C3C1C6"/>
<rect x="187.23" y="275.22" width="6.38" height="6.7" fill="#C3C1C6"/>
<rect x="193.88" y="275.22" width="6.38" height="6.7" fill="#C3C1C6"/>
<rect x="200.53" y="275.22" width="6.38" height="6.7" fill="#C3C1C6"/>
<rect x="207.17" y="275.22" width="6.38" height="6.7" fill="#C3C1C6"/>
<rect x="213.82" y="275.22" width="6.38" height="6.7" fill="#C3C1C6"/>
<rect x="226.2" y="275.22" width="6.38" height="6.7" fill="#C3C1C6"/>
<rect x="232.92" y="275.22" width="6.38" height="6.7" fill="#C3C1C6"/>
<rect x="239.64" y="275.22" width="6.38" height="6.7" fill="#C3C1C6"/>
<rect x="246.36" y="275.22" width="6.38" height="6.7" fill="#C3C1C6"/>
<rect x="253.08" y="275.22" width="6.38" height="6.7" fill="#5DA0DC"/>
<rect x="259.8" y="275.22" width="6.38" height="6.7" fill="#C3C1C6"/>
<rect x="266.52" y="275.22" width="6.38" height="6.7" fill="#C3C1C6"/>
<rect x="276.9" y="275.22" width="6.38" height="6.7" fill="#C3C1C6"/>
<rect x="283.56" y="275.22" width="6.38" height="6.7" fill="#C3C1C6"/>
<rect x="290.22" y="275.22" width="6.38" height="6.7" fill="#C3C1C6"/>
<rect x="296.88" y="275.22" width="6.38" height="6.7" fill="#C3C1C6"/>
<rect x="303.54" y="275.22" width="6.38" height="6.7" fill="#C3C1C6"/>
<rect x="310.2" y="275.22" width="6.38" height="6.7" fill="#C3C1C6"/>
<rect x="316.86" y="275.22" width="6.38" height="6.7" fill="#C3C1C6"/>
<rect x="323.52" y="275.22" width="6.38" height="6.7" fill="#C3C1C6"/>
<rect x="330.18" y="275.22" width="6.38" height="6.7" fill="#C3C1C6"/>
<rect x="336.84" y="275.22" width="6.38" height="6.7" fill="#C3C1C6"/>
<rect x="343.5" y="275.22" width="6.38" height="6.7" fill="#C3C1C6"/>
<rect x="350.16" y="275.22" width="6.38" height="6.7" fill="#C3C1C6"/>
<rect x="356.82" y="275.22" width="6.38" height="6.7" fill="#C3C1C6"/>
<rect x="48.7" y="283.3" width="6.38" height="6.7" fill="#C3C1C6"/>
<rect x="55.42" y="283.3" width="6.38" height="6.7" fill="#5DA0DC"/>
<rect x="62.13" y="283.3" width="6.38" height="6.7" fill="#C3C1C6"/>
<rect x="68.85" y="283.3" width="6.38" height="6.7" fill="#5DA0DC"/>
<rect x="75.56" y="283.3" width="6.38" height="6.7" fill="#C3C1C6"/>
<rect x="82.28" y="283.3" width="6.38" height="6.7" fill="#5DA0DC"/>
<rect x="88.99" y="283.3" width="6.38" height="6.7" fill="#C3C1C6"/>
<rect x="95.71" y="283.3" width="6.38" height="6.7" fill="#C3C1C6"/>
<rect x="102.43" y="283.3" width="6.38" height="6.7" fill="#C3C1C6"/>
<rect x="109.14" y="283.3" width="6.38" height="6.7" fill="#C3C1C6"/>
<rect x="115.86" y="283.3" width="6.38" height="6.7" fill="#C3C1C6"/>
<rect x="122.57" y="283.3" width="6.38" height="6.7" fill="#C3C1C6"/>
<rect x="129.29" y="283.3" width="6.38" height="6.7" fill="#C3C1C6"/>
<rect x="136" y="283.3" width="6.38" height="6.7" fill="#C3C1C6"/>
<rect x="142.72" y="283.3" width="6.38" height="6.7" fill="#C3C1C6"/>
<rect x="154" y="283.3" width="6.38" height="6.7" fill="#C3C1C6"/>
<rect x="160.65" y="283.3" width="6.38" height="6.7" fill="#C3C1C6"/>
<rect x="167.29" y="283.3" width="6.38" height="6.7" fill="#C3C1C6"/>
<rect x="173.94" y="283.3" width="6.38" height="6.7" fill="#C3C1C6"/>
<rect x="180.59" y="283.3" width="6.38" height="6.7" fill="#C3C1C6"/>
<rect x="187.23" y="283.3" width="6.38" height="6.7" fill="#C3C1C6"/>
<rect x="193.88" y="283.3" width="6.38" height="6.7" fill="#C3C1C6"/>
<rect x="200.53" y="283.3" width="6.38" height="6.7" fill="#C3C1C6"/>
<rect x="207.17" y="283.3" width="6.38" height="6.7" fill="#C3C1C6"/>
<rect x="213.82" y="283.3" width="6.38" height="6.7" fill="#C3C1C6"/>
<rect x="226.2" y="283.3" width="6.38" height="6.7" fill="#C3C1C6"/>
<rect x="232.92" y="283.3" width="6.38" height="6.7" fill="#C3C1C6"/>
<rect x="239.64" y="283.3" width="6.38" height="6.7" fill="#C3C1C6"/>
<rect x="246.36" y="283.3" width="6.38" height="6.7" fill="#C3C1C6"/>
<rect x="253.08" y="283.3" width="6.38" height="6.7" fill="#C3C1C6"/>
<rect x="259.8" y="283.3" width="6.38" height="6.7" fill="#C3C1C6"/>
<rect x="266.52" y="283.3" width="6.38" height="6.7" fill="#C3C1C6"/>
<rect x="276.9" y="283.3" width="6.38" height="6.7" fill="#C3C1C6"/>
<rect x="283.56" y="283.3" width="6.38" height="6.7" fill="#C3C1C6"/>
<rect x="290.22" y="283.3" width="6.38" height="6.7" fill="#C3C1C6"/>
<rect x="296.88" y="283.3" width="6.38" height="6.7" fill="#C3C1C6"/>
<rect x="303.54" y="283.3" width="6.38" height="6.7" fill="#C3C1C6"/>
<rect x="310.2" y="283.3" width="6.38" height="6.7" fill="#C3C1C6"/>
<rect x="316.86" y="283.3" width="6.38" height="6.7" fill="#C3C1C6"/>
<rect x="323.52" y="283.3" width="6.38" height="6.7" fill="#C3C1C6"/>
<rect x="330.18" y="283.3" width="6.38" height="6.7" fill="#C3C1C6"/>
<rect x="336.84" y="283.3" width="6.38" height="6.7" fill="#C3C1C6"/>
<rect x="343.5" y="283.3" width="6.38" height="6.7" fill="#C3C1C6"/>
<rect x="350.16" y="283.3" width="6.38" height="6.7" fill="#C3C1C6"/>
<rect x="356.82" y="283.3" width="6.38" height="6.7" fill="#C3C1C6"/>
<rect x="48.7" y="291.38" width="6.38" height="6.7" fill="#5DA0DC"/>
<rect x="55.42" y="291.38" width="6.38" height="6.7" fill="#213D78"/>
<rect x="62.13" y="291.38" width="6.38" height="6.7" fill="#C3C1C6"/>
<rect x="68.85" y="291.38" width="6.38" height="6.7" fill="#C3C1C6"/>
<rect x="75.56" y="291.38" width="6.38" height="6.7" fill="#C3C1C6"/>
<rect x="82.28" y="291.38" width="6.38" height="6.7" fill="#C3C1C6"/>
<rect x="88.99" y="291.38" width="6.38" height="6.7" fill="#C3C1C6"/>
<rect x="95.71" y="291.38" width="6.38" height="6.7" fill="#C3C1C6"/>
<rect x="102.43" y="291.38" width="6.38" height="6.7" fill="#C3C1C6"/>
<rect x="109.14" y="291.38" width="6.38" height="6.7" fill="#C3C1C6"/>
<rect x="115.86" y="291.38" width="6.38" height="6.7" fill="#C3C1C6"/>
<rect x="122.57" y="291.38" width="6.38" height="6.7" fill="#C3C1C6"/>
<rect x="129.29" y="291.38" width="6.38" height="6.7" fill="#C3C1C6"/>
<rect x="136" y="291.38" width="6.38" height="6.7" fill="#C3C1C6"/>
<rect x="142.72" y="291.38" width="6.38" height="6.7" fill="#C3C1C6"/>
<rect x="154" y="291.38" width="6.38" height="6.7" fill="#C3C1C6"/>
<rect x="160.65" y="291.38" width="6.38" height="6.7" fill="#C3C1C6"/>
<rect x="167.29" y="291.38" width="6.38" height="6.7" fill="#C3C1C6"/>
<rect x="173.94" y="291.38" width="6.38" height="6.7" fill="#C3C1C6"/>
<rect x="180.59" y="291.38" width="6.38" height="6.7" fill="#C3C1C6"/>
<rect x="187.23" y="291.38" width="6.38" height="6.7" fill="#C3C1C6"/>
<rect x="193.88" y="291.38" width="6.38" height="6.7" fill="#C3C1C6"/>
<rect x="200.53" y="291.38" width="6.38" height="6.7" fill="#C3C1C6"/>
<rect x="207.17" y="291.38" width="6.38" height="6.7" fill="#C3C1C6"/>
<rect x="213.82" y="291.38" width="6.38" height="6.7" fill="#C3C1C6"/>
<rect x="226.2" y="291.38" width="6.38" height="6.7" fill="#C3C1C6"/>
<rect x="232.92" y="291.38" width="6.38" height="6.7" fill="#C3C1C6"/>
<rect x="239.64" y="291.38" width="6.38" height="6.7" fill="#C3C1C6"/>
<rect x="246.36" y="291.38" width="6.38" height="6.7" fill="#C3C1C6"/>
<rect x="253.08" y="291.38" width="6.38" height="6.7" fill="#C3C1C6"/>
<rect x="259.8" y="291.38" width="6.38" height="6.7" fill="#C3C1C6"/>
<rect x="266.52" y="291.38" width="6.38" height="6.7" fill="#C3C1C6"/>
<rect x="276.9" y="291.38" width="6.38" height="6.7" fill="#C3C1C6"/>
<rect x="283.56" y="291.38" width="6.38" height="6.7" fill="#C3C1C6"/>
<rect x="290.22" y="291.38" width="6.38" height="6.7" fill="#C3C1C6"/>
<rect x="296.88" y="291.38" width="6.38" height="6.7" fill="#C3C1C6"/>
<rect x="303.54" y="291.38" width="6.38" height="6.7" fill="#C3C1C6"/>
<rect x="310.2" y="291.38" width="6.38" height="6.7" fill="#C3C1C6"/>
<rect x="316.86" y="291.38" width="6.38" height="6.7" fill="#C3C1C6"/>
<rect x="323.52" y="291.38" width="6.38" height="6.7" fill="#C3C1C6"/>
<rect x="330.18" y="291.38" width="6.38" height="6.7" fill="#C3C1C6"/>
<rect x="336.84" y="291.38" width="6.38" height="6.7" fill="#C3C1C6"/>
<rect x="343.5" y="291.38" width="6.38" height="6.7" fill="#C3C1C6"/>
<rect x="350.16" y="291.38" width="6.38" height="6.7" fill="#C3C1C6"/>
<rect x="356.82" y="291.38" width="6.38" height="6.7" fill="#C3C1C6"/>
<rect x="48.7" y="299.46" width="6.38" height="6.7" fill="#C3C1C6"/>
<rect x="55.42" y="299.46" width="6.38" height="6.7" fill="#C3C1C6"/>
<rect x="62.13" y="299.46" width="6.38" height="6.7" fill="#C3C1C6"/>
<rect x="68.85" y="299.46" width="6.38" height="6.7" fill="#C3C1C6"/>
<rect x="75.56" y="299.46" width="6.38" height="6.7" fill="#C3C1C6"/>
<rect x="82.28" y="299.46" width="6.38" height="6.7" fill="#C3C1C6"/>
<rect x="88.99" y="299.46" width="6.38" height="6.7" fill="#5DA0DC"/>
<rect x="95.71" y="299.46" width="6.38" height="6.7" fill="#C3C1C6"/>
<rect x="102.43" y="299.46" width="6.38" height="6.7" fill="#C3C1C6"/>
<rect x="109.14" y="299.46" width="6.38" height="6.7" fill="#C3C1C6"/>
<rect x="115.86" y="299.46" width="6.38" height="6.7" fill="#C3C1C6"/>
<rect x="122.57" y="299.46" width="6.38" height="6.7" fill="#C3C1C6"/>
<rect x="129.29" y="299.46" width="6.38" height="6.7" fill="#C3C1C6"/>
<rect x="136" y="299.46" width="6.38" height="6.7" fill="#C3C1C6"/>
<rect x="142.72" y="299.46" width="6.38" height="6.7" fill="#C3C1C6"/>
<rect x="154" y="299.46" width="6.38" height="6.7" fill="#C3C1C6"/>
<rect x="160.65" y="299.46" width="6.38" height="6.7" fill="#C3C1C6"/>
<rect x="167.29" y="299.46" width="6.38" height="6.7" fill="#C3C1C6"/>
<rect x="173.94" y="299.46" width="6.38" height="6.7" fill="#C3C1C6"/>
<rect x="180.59" y="299.46" width="6.38" height="6.7" fill="#C3C1C6"/>
<rect x="187.23" y="299.46" width="6.38" height="6.7" fill="#C3C1C6"/>
<rect x="193.88" y="299.46" width="6.38" height="6.7" fill="#C3C1C6"/>
<rect x="200.53" y="299.46" width="6.38" height="6.7" fill="#C3C1C6"/>
<rect x="207.17" y="299.46" width="6.38" height="6.7" fill="#C3C1C6"/>
<rect x="213.82" y="299.46" width="6.38" height="6.7" fill="#C3C1C6"/>
<rect x="226.2" y="299.46" width="6.38" height="6.7" fill="#C3C1C6"/>
<rect x="232.92" y="299.46" width="6.38" height="6.7" fill="#C3C1C6"/>
<rect x="239.64" y="299.46" width="6.38" height="6.7" fill="#C3C1C6"/>
<rect x="246.36" y="299.46" width="6.38" height="6.7" fill="#C3C1C6"/>
<rect x="253.08" y="299.46" width="6.38" height="6.7" fill="#C3C1C6"/>
<rect x="259.8" y="299.46" width="6.38" height="6.7" fill="#C3C1C6"/>
<rect x="266.52" y="299.46" width="6.38" height="6.7" fill="#C3C1C6"/>
<rect x="276.9" y="299.46" width="6.38" height="6.7" fill="#C3C1C6"/>
<rect x="283.56" y="299.46" width="6.38" height="6.7" fill="#C3C1C6"/>
<rect x="290.22" y="299.46" width="6.38" height="6.7" fill="#C3C1C6"/>
<rect x="296.88" y="299.46" width="6.38" height="6.7" fill="#C3C1C6"/>
<rect x="303.54" y="299.46" width="6.38" height="6.7" fill="#C3C1C6"/>
<rect x="310.2" y="299.46" width="6.38" height="6.7" fill="#C3C1C6"/>
<rect x="316.86" y="299.46" width="6.38" height="6.7" fill="#C3C1C6"/>
<rect x="323.52" y="299.46" width="6.38" height="6.7" fill="#C3C1C6"/>
<rect x="330.18" y="299.46" width="6.38" height="6.7" fill="#C3C1C6"/>
<rect x="336.84" y="299.46" width="6.38" height="6.7" fill="#C3C1C6"/>
<rect x="343.5" y="299.46" width="6.38" height="6.7" fill="#C3C1C6"/>
<rect x="350.16" y="299.46" width="6.38" height="6.7" fill="#C3C1C6"/>
<rect x="356.82" y="299.46" width="6.38" height="6.7" fill="#C3C1C6"/>
<rect x="48.7" y="307.54" width="6.38" height="6.7" fill="#C3C1C6"/>
<rect x="55.42" y="307.54" width="6.38" height="6.7" fill="#C3C1C6"/>
<rect x="62.13" y="307.54" width="6.38" height="6.7" fill="#C3C1C6"/>
<rect x="68.85" y="307.54" width="6.38" height="6.7" fill="#C3C1C6"/>
<rect x="75.56" y="307.54" width="6.38" height="6.7" fill="#C3C1C6"/>
<rect x="82.28" y="307.54" width="6.38" height="6.7" fill="#C3C1C6"/>
<rect x="88.99" y="307.54" width="6.38" height="6.7" fill="#C3C1C6"/>
<rect x="95.71" y="307.54" width="6.38" height="6.7" fill="#C3C1C6"/>
<rect x="102.43" y="307.54" width="6.38" height="6.7" fill="#C3C1C6"/>
<rect x="109.14" y="307.54" width="6.38" height="6.7" fill="#C3C1C6"/>
<rect x="115.86" y="307.54" width="6.38" height="6.7" fill="#C3C1C6"/>
<rect x="122.57" y="307.54" width="6.38" height="6.7" fill="#5DA0DC"/>
<rect x="129.29" y="307.54" width="6.38" height="6.7" fill="#C3C1C6"/>
<rect x="136" y="307.54" width="6.38" height="6.7" fill="#C3C1C6"/>
<rect x="142.72" y="307.54" width="6.38" height="6.7" fill="#C3C1C6"/>
<rect x="154" y="307.54" width="6.38" height="6.7" fill="#C3C1C6"/>
<rect x="160.65" y="307.54" width="6.38" height="6.7" fill="#C3C1C6"/>
<rect x="167.29" y="307.54" width="6.38" height="6.7" fill="#C3C1C6"/>
<rect x="173.94" y="307.54" width="6.38" height="6.7" fill="#C3C1C6"/>
<rect x="180.59" y="307.54" width="6.38" height="6.7" fill="#C3C1C6"/>
<rect x="187.23" y="307.54" width="6.38" height="6.7" fill="#C3C1C6"/>
<rect x="193.88" y="307.54" width="6.38" height="6.7" fill="#C3C1C6"/>
<rect x="200.53" y="307.54" width="6.38" height="6.7" fill="#C3C1C6"/>
<rect x="207.17" y="307.54" width="6.38" height="6.7" fill="#C3C1C6"/>
<rect x="213.82" y="307.54" width="6.38" height="6.7" fill="#C3C1C6"/>
<rect x="226.2" y="307.54" width="6.38" height="6.7" fill="#C3C1C6"/>
<rect x="232.92" y="307.54" width="6.38" height="6.7" fill="#C3C1C6"/>
<rect x="239.64" y="307.54" width="6.38" height="6.7" fill="#C3C1C6"/>
<rect x="246.36" y="307.54" width="6.38" height="6.7" fill="#C3C1C6"/>
<rect x="253.08" y="307.54" width="6.38" height="6.7" fill="#C3C1C6"/>
<rect x="259.8" y="307.54" width="6.38" height="6.7" fill="#C3C1C6"/>
<rect x="266.52" y="307.54" width="6.38" height="6.7" fill="#C3C1C6"/>
<rect x="276.9" y="307.54" width="6.38" height="6.7" fill="#C3C1C6"/>
<rect x="283.56" y="307.54" width="6.38" height="6.7" fill="#C3C1C6"/>
<rect x="290.22" y="307.54" width="6.38" height="6.7" fill="#C3C1C6"/>
<rect x="296.88" y="307.54" width="6.38" height="6.7" fill="#C3C1C6"/>
<rect x="303.54" y="307.54" width="6.38" height="6.7" fill="#C3C1C6"/>
<rect x="310.2" y="307.54" width="6.38" height="6.7" fill="#C3C1C6"/>
<rect x="316.86" y="307.54" width="6.38" height="6.7" fill="#C3C1C6"/>
<rect x="323.52" y="307.54" width="6.38" height="6.7" fill="#C3C1C6"/>
<rect x="330.18" y="307.54" width="6.38" height="6.7" fill="#C3C1C6"/>
<rect x="336.84" y="307.54" width="6.38" height="6.7" fill="#C3C1C6"/>
<rect x="343.5" y="307.54" width="6.38" height="6.7" fill="#C3C1C6"/>
<rect x="350.16" y="307.54" width="6.38" height="6.7" fill="#C3C1C6"/>
<rect x="356.82" y="307.54" width="6.38" height="6.7" fill="#C3C1C6"/>
<rect x="48.7" y="315.62" width="6.38" height="6.7" fill="#C3C1C6"/>
<rect x="55.42" y="315.62" width="6.38" height="6.7" fill="#C3C1C6"/>
<rect x="62.13" y="315.62" width="6.38" height="6.7" fill="#5DA0DC"/>
<rect x="68.85" y="315.62" width="6.38" height="6.7" fill="#C3C1C6"/>
<rect x="75.56" y="315.62" width="6.38" height="6.7" fill="#C3C1C6"/>
<rect x="82.28" y="315.62" width="6.38" height="6.7" fill="#C3C1C6"/>
<rect x="88.99" y="315.62" width="6.38" height="6.7" fill="#C3C1C6"/>
<rect x="95.71" y="315.62" width="6.38" height="6.7" fill="#C3C1C6"/>
<rect x="102.43" y="315.62" width="6.38" height="6.7" fill="#C3C1C6"/>
<rect x="109.14" y="315.62" width="6.38" height="6.7" fill="#C3C1C6"/>
<rect x="115.86" y="315.62" width="6.38" height="6.7" fill="#C3C1C6"/>
<rect x="122.57" y="315.62" width="6.38" height="6.7" fill="#C3C1C6"/>
<rect x="129.29" y="315.62" width="6.38" height="6.7" fill="#C3C1C6"/>
<rect x="136" y="315.62" width="6.38" height="6.7" fill="#C3C1C6"/>
<rect x="142.72" y="315.62" width="6.38" height="6.7" fill="#C3C1C6"/>
<rect x="154" y="315.62" width="6.38" height="6.7" fill="#C3C1C6"/>
<rect x="160.65" y="315.62" width="6.38" height="6.7" fill="#C3C1C6"/>
<rect x="167.29" y="315.62" width="6.38" height="6.7" fill="#C3C1C6"/>
<rect x="173.94" y="315.62" width="6.38" height="6.7" fill="#C3C1C6"/>
<rect x="180.59" y="315.62" width="6.38" height="6.7" fill="#C3C1C6"/>
<rect x="187.23" y="315.62" width="6.38" height="6.7" fill="#C3C1C6"/>
<rect x="193.88" y="315.62" width="6.38" height="6.7" fill="#C3C1C6"/>
<rect x="200.53" y="315.62" width="6.38" height="6.7" fill="#C3C1C6"/>
<rect x="207.17" y="315.62" width="6.38" height="6.7" fill="#C3C1C6"/>
<rect x="213.82" y="315.62" width="6.38" height="6.7" fill="#C3C1C6"/>
<rect x="226.2" y="315.62" width="6.38" height="6.7" fill="#C3C1C6"/>
<rect x="232.92" y="315.62" width="6.38" height="6.7" fill="#C3C1C6"/>
<rect x="239.64" y="315.62" width="6.38" height="6.7" fill="#C3C1C6"/>
<rect x="246.36" y="315.62" width="6.38" height="6.7" fill="#C3C1C6"/>
<rect x="253.08" y="315.62" width="6.38" height="6.7" fill="#C3C1C6"/>
<rect x="259.8" y="315.62" width="6.38" height="6.7" fill="#C3C1C6"/>
<rect x="266.52" y="315.62" width="6.38" height="6.7" fill="#C3C1C6"/>
<rect x="276.9" y="315.62" width="6.38" height="6.7" fill="#C3C1C6"/>
<rect x="283.56" y="315.62" width="6.38" height="6.7" fill="#C3C1C6"/>
<rect x="290.22" y="315.62" width="6.38" height="6.7" fill="#C3C1C6"/>
<rect x="296.88" y="315.62" width="6.38" height="6.7" fill="#C3C1C6"/>
<rect x="303.54" y="315.62" width="6.38" height="6.7" fill="#C3C1C6"/>
<rect x="310.2" y="315.62" width="6.38" height="6.7" fill="#C3C1C6"/>
<rect x="316.86" y="315.62" width="6.38" height="6.7" fill="#C3C1C6"/>
<rect x="323.52" y="315.62" width="6.38" height="6.7" fill="#C3C1C6"/>
<rect x="330.18" y="315.62" width="6.38" height="6.7" fill="#C3C1C6"/>
<rect x="336.84" y="315.62" width="6.38" height="6.7" fill="#C3C1C6"/>
<rect x="343.5" y="315.62" width="6.38" height="6.7" fill="#C3C1C6"/>
<rect x="350.16" y="315.62" width="6.38" height="6.7" fill="#C3C1C6"/>
<rect x="356.82" y="315.62" width="6.38" height="6.7" fill="#C3C1C6"/>
<rect x="48.7" y="323.7" width="6.38" height="6.7" fill="#C3C1C6"/>
<rect x="55.42" y="323.7" width="6.38" height="6.7" fill="#C3C1C6"/>
<rect x="62.13" y="323.7" width="6.38" height="6.7" fill="#C3C1C6"/>
<rect x="68.85" y="323.7" width="6.38" height="6.7" fill="#C3C1C6"/>
<rect x="75.56" y="323.7" width="6.38" height="6.7" fill="#C3C1C6"/>
<rect x="82.28" y="323.7" width="6.38" height="6.7" fill="#C3C1C6"/>
<rect x="88.99" y="323.7" width="6.38" height="6.7" fill="#C3C1C6"/>
<rect x="95.71" y="323.7" width="6.38" height="6.7" fill="#C3C1C6"/>
<rect x="102.43" y="323.7" width="6.38" height="6.7" fill="#C3C1C6"/>
<rect x="109.14" y="323.7" width="6.38" height="6.7" fill="#C3C1C6"/>
<rect x="115.86" y="323.7" width="6.38" height="6.7" fill="#C3C1C6"/>
<rect x="122.57" y="323.7" width="6.38" height="6.7" fill="#C3C1C6"/>
<rect x="129.29" y="323.7" width="6.38" height="6.7" fill="#C3C1C6"/>
<rect x="136" y="323.7" width="6.38" height="6.7" fill="#C3C1C6"/>
<rect x="142.72" y="323.7" width="6.38" height="6.7" fill="#C3C1C6"/>
<rect x="154" y="323.7" width="6.38" height="6.7" fill="#C3C1C6"/>
<rect x="160.65" y="323.7" width="6.38" height="6.7" fill="#C3C1C6"/>
<rect x="167.29" y="323.7" width="6.38" height="6.7" fill="#C3C1C6"/>
<rect x="173.94" y="323.7" width="6.38" height="6.7" fill="#C3C1C6"/>
<rect x="180.59" y="323.7" width="6.38" height="6.7" fill="#C3C1C6"/>
<rect x="187.23" y="323.7" width="6.38" height="6.7" fill="#C3C1C6"/>
<rect x="193.88" y="323.7" width="6.38" height="6.7" fill="#C3C1C6"/>
<rect x="200.53" y="323.7" width="6.38" height="6.7" fill="#C3C1C6"/>
<rect x="207.17" y="323.7" width="6.38" height="6.7" fill="#C3C1C6"/>
<rect x="213.82" y="323.7" width="6.38" height="6.7" fill="#C3C1C6"/>
<rect x="226.2" y="323.7" width="6.38" height="6.7" fill="#C3C1C6"/>
<rect x="232.92" y="323.7" width="6.38" height="6.7" fill="#C3C1C6"/>
<rect x="239.64" y="323.7" width="6.38" height="6.7" fill="#C3C1C6"/>
<rect x="246.36" y="323.7" width="6.38" height="6.7" fill="#5DA0DC"/>
<rect x="253.08" y="323.7" width="6.38" height="6.7" fill="#C3C1C6"/>
<rect x="259.8" y="323.7" width="6.38" height="6.7" fill="#C3C1C6"/>
<rect x="266.52" y="323.7" width="6.38" height="6.7" fill="#C3C1C6"/>
<rect x="276.9" y="323.7" width="6.38" height="6.7" fill="#C3C1C6"/>
<rect x="283.56" y="323.7" width="6.38" height="6.7" fill="#C3C1C6"/>
<rect x="290.22" y="323.7" width="6.38" height="6.7" fill="#C3C1C6"/>
<rect x="296.88" y="323.7" width="6.38" height="6.7" fill="#C3C1C6"/>
<rect x="303.54" y="323.7" width="6.38" height="6.7" fill="#C3C1C6"/>
<rect x="310.2" y="323.7" width="6.38" height="6.7" fill="#C3C1C6"/>
<rect x="316.86" y="323.7" width="6.38" height="6.7" fill="#C3C1C6"/>
<rect x="323.52" y="323.7" width="6.38" height="6.7" fill="#C3C1C6"/>
<rect x="330.18" y="323.7" width="6.38" height="6.7" fill="#C3C1C6"/>
<rect x="336.84" y="323.7" width="6.38" height="6.7" fill="#C3C1C6"/>
<rect x="343.5" y="323.7" width="6.38" height="6.7" fill="#C3C1C6"/>
<rect x="350.16" y="323.7" width="6.38" height="6.7" fill="#C3C1C6"/>
<rect x="356.82" y="323.7" width="6.38" height="6.7" fill="#C3C1C6"/>
<rect x="48.7" y="331.78" width="6.38" height="6.7" fill="#C3C1C6"/>
<rect x="55.42" y="331.78" width="6.38" height="6.7" fill="#C3C1C6"/>
<rect x="62.13" y="331.78" width="6.38" height="6.7" fill="#C3C1C6"/>
<rect x="75.56" y="331.78" width="6.38" height="6.7" fill="#5DA0DC"/>
<rect x="82.28" y="331.78" width="6.38" height="6.7" fill="#C3C1C6"/>
<rect x="88.99" y="331.78" width="6.38" height="6.7" fill="#C3C1C6"/>
<rect x="95.71" y="331.78" width="6.38" height="6.7" fill="#C3C1C6"/>
<rect x="102.43" y="331.78" width="6.38" height="6.7" fill="#C3C1C6"/>
<rect x="109.14" y="331.78" width="6.38" height="6.7" fill="#C3C1C6"/>
<rect x="115.86" y="331.78" width="6.38" height="6.7" fill="#C3C1C6"/>
<rect x="122.57" y="331.78" width="6.38" height="6.7" fill="#C3C1C6"/>
<rect x="129.29" y="331.78" width="6.38" height="6.7" fill="#C3C1C6"/>
<rect x="136" y="331.78" width="6.38" height="6.7" fill="#C3C1C6"/>
<rect x="142.72" y="331.78" width="6.38" height="6.7" fill="#5DA0DC"/>
<rect x="154" y="331.78" width="6.38" height="6.7" fill="#C3C1C6"/>
<rect x="160.65" y="331.78" width="6.38" height="6.7" fill="#C3C1C6"/>
<rect x="167.29" y="331.78" width="6.38" height="6.7" fill="#C3C1C6"/>
<rect x="173.94" y="331.78" width="6.38" height="6.7" fill="#C3C1C6"/>
<rect x="180.59" y="331.78" width="6.38" height="6.7" fill="#C3C1C6"/>
<rect x="187.23" y="331.78" width="6.38" height="6.7" fill="#C3C1C6"/>
<rect x="193.88" y="331.78" width="6.38" height="6.7" fill="#5DA0DC"/>
<rect x="207.17" y="331.78" width="6.38" height="6.7" fill="#C3C1C6"/>
<rect x="213.82" y="331.78" width="6.38" height="6.7" fill="#5DA0DC"/>
<rect x="226.2" y="331.78" width="6.38" height="6.7" fill="#C3C1C6"/>
<rect x="232.92" y="331.78" width="6.38" height="6.7" fill="#C3C1C6"/>
<rect x="239.64" y="331.78" width="6.38" height="6.7" fill="#5DA0DC"/>
<rect x="246.36" y="331.78" width="6.38" height="6.7" fill="#5DA0DC"/>
<rect x="253.08" y="331.78" width="6.38" height="6.7" fill="#C3C1C6"/>
<rect x="259.8" y="331.78" width="6.38" height="6.7" fill="#C3C1C6"/>
<rect x="266.52" y="331.78" width="6.38" height="6.7" fill="#C3C1C6"/>
<rect x="276.9" y="331.78" width="6.38" height="6.7" fill="#C3C1C6"/>
<rect x="283.56" y="331.78" width="6.38" height="6.7" fill="#C3C1C6"/>
<rect x="290.22" y="331.78" width="6.38" height="6.7" fill="#C3C1C6"/>
<rect x="296.88" y="331.78" width="6.38" height="6.7" fill="#C3C1C6"/>
<rect x="303.54" y="331.78" width="6.38" height="6.7" fill="#C3C1C6"/>
<rect x="310.2" y="331.78" width="6.38" height="6.7" fill="#C3C1C6"/>
<rect x="316.86" y="331.78" width="6.38" height="6.7" fill="#C3C1C6"/>
<rect x="323.52" y="331.78" width="6.38" height="6.7" fill="#5DA0DC"/>
<rect x="330.18" y="331.78" width="6.38" height="6.7" fill="#C3C1C6"/>
<rect x="336.84" y="331.78" width="6.38" height="6.7" fill="#C3C1C6"/>
<rect x="343.5" y="331.78" width="6.38" height="6.7" fill="#C3C1C6"/>
<text class="t" x="370.9" y="115.9" font-size="5.0" textLength="15.4" lengthAdjust="spacingAndGlyphs">Inguinal</text>
<text class="t" x="370.9" y="124.07" font-size="5.0" textLength="14.8" lengthAdjust="spacingAndGlyphs">Gender</text>
<text class="t" x="370.9" y="132.24" font-size="5.0" textLength="11.9" lengthAdjust="spacingAndGlyphs">Stage</text>
<text class="t" x="370.9" y="140.41" font-size="5.0" textLength="14.2" lengthAdjust="spacingAndGlyphs">Pattern</text>
<text class="t" x="370.9" y="148.58" font-size="5.0" textLength="12.2" lengthAdjust="spacingAndGlyphs">CD23</text>
<text class="t" x="370.9" y="165.6" font-size="5.0" font-style="italic" textLength="13.6" lengthAdjust="spacingAndGlyphs">STAT6</text>
<text class="t" x="370.9" y="173.75" font-size="5.0" textLength="19.5" lengthAdjust="spacingAndGlyphs">16p-LOH</text>
<text class="t" x="370.9" y="181.9" font-size="5.0" textLength="22.2" lengthAdjust="spacingAndGlyphs">16p-LOSS</text>
<text class="t" x="370.9" y="190.05" font-size="5.0" font-style="italic" textLength="20.7" lengthAdjust="spacingAndGlyphs">CREBBP</text>
<text class="t" x="370.9" y="198.2" font-size="5.0" textLength="22.2" lengthAdjust="spacingAndGlyphs">1p36-LOH</text>
<text class="t" x="370.9" y="206.35" font-size="5.0" textLength="24.2" lengthAdjust="spacingAndGlyphs">1p36-LOSS</text>
<text class="t" x="370.9" y="214.5" font-size="5.0" font-style="italic" textLength="23.6" lengthAdjust="spacingAndGlyphs">TNFRSF14</text>
<text class="t" x="370.9" y="222.65" font-size="5.0" textLength="26.2" lengthAdjust="spacingAndGlyphs">L6q21-q24.3</text>
<text class="t" x="370.9" y="230.8" font-size="5.0" font-style="italic" textLength="16.3" lengthAdjust="spacingAndGlyphs">KMT2D</text>
<text class="t" x="370.9" y="238.95" font-size="5.0" font-style="italic" textLength="11.9" lengthAdjust="spacingAndGlyphs">EZH2</text>
<text class="t" x="370.9" y="247.1" font-size="5.0" font-style="italic" textLength="15.4" lengthAdjust="spacingAndGlyphs">FOXO1</text>
<text class="t" x="370.9" y="255.25" font-size="5.0" font-style="italic" textLength="16.3" lengthAdjust="spacingAndGlyphs">SOCS1</text>
<text class="t" x="370.9" y="263.4" font-size="5.0" font-style="italic" textLength="21.3" lengthAdjust="spacingAndGlyphs">HIST1H1E</text>
<text class="t" x="370.9" y="271.55" font-size="5.0" font-style="italic" textLength="19.5" lengthAdjust="spacingAndGlyphs">TNFAIP3</text>
<text class="t" x="370.9" y="279.7" font-size="5.0" font-style="italic" textLength="14.8" lengthAdjust="spacingAndGlyphs">EP300</text>
<text class="t" x="370.9" y="287.85" font-size="5.0" font-style="italic" textLength="23.4" lengthAdjust="spacingAndGlyphs">HIST1H1D</text>
<text class="t" x="370.9" y="296" font-size="5.0" font-style="italic" textLength="23.4" lengthAdjust="spacingAndGlyphs">HIST1H1C</text>
<text class="t" x="370.9" y="304.15" font-size="5.0" font-style="italic" textLength="16.3" lengthAdjust="spacingAndGlyphs">MEF2B</text>
<text class="t" x="370.9" y="312.3" font-size="5.0" font-style="italic" textLength="23.2" lengthAdjust="spacingAndGlyphs">HIST1H1B</text>
<text class="t" x="370.9" y="320.45" font-size="5.0" font-style="italic" textLength="19.1" lengthAdjust="spacingAndGlyphs">NOTCH1</text>
<text class="t" x="370.9" y="328.6" font-size="5.0" font-style="italic" textLength="19.4" lengthAdjust="spacingAndGlyphs">NOTCH2</text>
<text class="t" x="370.9" y="336.75" font-size="5.0" font-style="italic" textLength="25.3" lengthAdjust="spacingAndGlyphs">BCL6_FISH</text>
<rect x="403" y="112.2" width="34.24" height="4.6" fill="#5DA0DC"/>
<rect x="437.24" y="112.2" width="32.76" height="4.6" fill="#C3C1C6"/>
<rect x="403" y="120.37" width="22.33" height="4.6" fill="#5DA0DC"/>
<rect x="425.33" y="120.37" width="44.67" height="4.6" fill="#C3C1C6"/>
<rect x="403" y="128.54" width="8.93" height="4.6" fill="#5DA0DC"/>
<rect x="411.93" y="128.54" width="38.12" height="4.6" fill="#C3C1C6"/>
<rect x="403" y="136.71" width="14.89" height="4.6" fill="#213D78"/>
<rect x="417.89" y="136.71" width="41.69" height="4.6" fill="#C8007C"/>
<rect x="459.58" y="136.71" width="10.42" height="4.6" fill="#62A842"/>
<rect x="403" y="144.88" width="38.71" height="4.6" fill="#5DA0DC"/>
<rect x="441.71" y="144.88" width="28.29" height="4.6" fill="#C3C1C6"/>
<rect x="403" y="161.9" width="38.71" height="4.6" fill="#5DA0DC"/>
<rect x="441.71" y="161.9" width="28.29" height="4.6" fill="#C3C1C6"/>
<rect x="403" y="170.05" width="14.89" height="4.6" fill="#EBB820"/>
<rect x="417.89" y="170.05" width="50.62" height="4.6" fill="#C3C1C6"/>
<rect x="403" y="178.2" width="4.47" height="4.6" fill="#A8002C"/>
<rect x="407.47" y="178.2" width="61.04" height="4.6" fill="#C3C1C6"/>
<rect x="403" y="186.35" width="32.76" height="4.6" fill="#5DA0DC"/>
<rect x="435.76" y="186.35" width="34.24" height="4.6" fill="#C3C1C6"/>
<rect x="403" y="194.5" width="14.89" height="4.6" fill="#EBB820"/>
<rect x="417.89" y="194.5" width="50.62" height="4.6" fill="#C3C1C6"/>
<rect x="403" y="202.65" width="2.23" height="4.6" fill="#5A3B16"/>
<rect x="405.23" y="202.65" width="15.63" height="4.6" fill="#A8002C"/>
<rect x="420.87" y="202.65" width="47.64" height="4.6" fill="#C3C1C6"/>
<rect x="403" y="210.8" width="25.31" height="4.6" fill="#5DA0DC"/>
<rect x="428.31" y="210.8" width="40.2" height="4.6" fill="#C3C1C6"/>
<rect x="403" y="218.95" width="16.38" height="4.6" fill="#A8002C"/>
<rect x="419.38" y="218.95" width="49.13" height="4.6" fill="#C3C1C6"/>
<rect x="403" y="227.1" width="17.87" height="4.6" fill="#5DA0DC"/>
<rect x="420.87" y="227.1" width="49.13" height="4.6" fill="#C3C1C6"/>
<rect x="403" y="235.25" width="11.91" height="4.6" fill="#5DA0DC"/>
<rect x="414.91" y="235.25" width="55.09" height="4.6" fill="#C3C1C6"/>
<rect x="403" y="243.4" width="8.93" height="4.6" fill="#5DA0DC"/>
<rect x="411.93" y="243.4" width="58.07" height="4.6" fill="#C3C1C6"/>
<rect x="403" y="251.55" width="5.96" height="4.6" fill="#5DA0DC"/>
<rect x="408.96" y="251.55" width="61.04" height="4.6" fill="#C3C1C6"/>
<rect x="403" y="259.7" width="5.96" height="4.6" fill="#5DA0DC"/>
<rect x="408.96" y="259.7" width="61.04" height="4.6" fill="#C3C1C6"/>
<rect x="403" y="267.85" width="5.96" height="4.6" fill="#5DA0DC"/>
<rect x="408.96" y="267.85" width="61.04" height="4.6" fill="#C3C1C6"/>
<rect x="403" y="276" width="4.47" height="4.6" fill="#5DA0DC"/>
<rect x="407.47" y="276" width="62.53" height="4.6" fill="#C3C1C6"/>
<rect x="403" y="284.15" width="4.47" height="4.6" fill="#5DA0DC"/>
<rect x="407.47" y="284.15" width="62.53" height="4.6" fill="#C3C1C6"/>
<rect x="403" y="292.3" width="2.98" height="4.6" fill="#5DA0DC"/>
<rect x="405.98" y="292.3" width="64.02" height="4.6" fill="#C3C1C6"/>
<rect x="403" y="300.45" width="1.49" height="4.6" fill="#5DA0DC"/>
<rect x="404.49" y="300.45" width="65.51" height="4.6" fill="#C3C1C6"/>
<rect x="403" y="308.6" width="1.49" height="4.6" fill="#5DA0DC"/>
<rect x="404.49" y="308.6" width="65.51" height="4.6" fill="#C3C1C6"/>
<rect x="403" y="316.75" width="1.49" height="4.6" fill="#5DA0DC"/>
<rect x="404.49" y="316.75" width="65.51" height="4.6" fill="#C3C1C6"/>
<rect x="403" y="324.9" width="1.49" height="4.6" fill="#5DA0DC"/>
<rect x="404.49" y="324.9" width="65.51" height="4.6" fill="#C3C1C6"/>
<rect x="403" y="333.05" width="10.42" height="4.6" fill="#5DA0DC"/>
<rect x="413.42" y="333.05" width="50.62" height="4.6" fill="#C3C1C6"/>
<g stroke="#111" stroke-width="1.0" fill="none">
<path d="M402.6 108.7V344.6"/>
<path d="M402.2 342.5H472.6" stroke-width="1.25"/>
<path d="M402.6 342.5V345"/>
<path d="M436.4 342.5V345"/>
<path d="M470 342.5V345"/>
</g>
<text class="t" x="402.6" y="353.7" font-size="4.7" text-anchor="middle">0</text>
<text class="t" x="436.3" y="353.7" font-size="4.7" text-anchor="middle">22</text>
<text class="t" x="470.1" y="353.7" font-size="4.7" text-anchor="middle">45</text>
<text class="s" x="422.9" y="363.7" font-size="6.5" textLength="30" lengthAdjust="spacingAndGlyphs">Frequency (<tspan font-style="italic">n</tspan>)</text>
<text class="u" font-size="4.85" text-anchor="end" transform="translate(52.94 341.6) rotate(-90)">FL29</text>
<text class="u" font-size="4.85" text-anchor="end" transform="translate(59.66 341.6) rotate(-90)">FL60</text>
<text class="u" font-size="4.85" text-anchor="end" transform="translate(66.37 341.6) rotate(-90)">FL26</text>
<text class="u" font-size="4.85" text-anchor="end" transform="translate(73.09 341.6) rotate(-90)">FL27</text>
<text class="u" font-size="4.85" text-anchor="end" transform="translate(79.8 341.6) rotate(-90)">FL18</text>
<text class="u" font-size="4.85" text-anchor="end" transform="translate(86.52 341.6) rotate(-90)">FL10</text>
<text class="u" font-size="4.85" text-anchor="end" transform="translate(93.23 341.6) rotate(-90)">FL44</text>
<text class="u" font-size="4.85" text-anchor="end" transform="translate(99.95 341.6) rotate(-90)">FL15</text>
<text class="u" font-size="4.85" text-anchor="end" transform="translate(106.67 341.6) rotate(-90)">FL32</text>
<text class="u" font-size="4.85" text-anchor="end" transform="translate(113.38 341.6) rotate(-90)">FL6</text>
<text class="u" font-size="4.85" text-anchor="end" transform="translate(120.1 341.6) rotate(-90)">FL40</text>
<text class="u" font-size="4.85" text-anchor="end" transform="translate(126.81 341.6) rotate(-90)">FL25</text>
<text class="u" font-size="4.85" text-anchor="end" transform="translate(133.53 341.6) rotate(-90)">FL41</text>
<text class="u" font-size="4.85" text-anchor="end" transform="translate(140.24 341.6) rotate(-90)">FL11</text>
<text class="u" font-size="4.85" text-anchor="end" transform="translate(146.96 341.6) rotate(-90)">FL38</text>
<text class="u" font-size="4.85" text-anchor="end" transform="translate(158.24 341.6) rotate(-90)">FL30</text>
<text class="u" font-size="4.85" text-anchor="end" transform="translate(164.89 341.6) rotate(-90)">FL2</text>
<text class="u" font-size="4.85" text-anchor="end" transform="translate(171.53 341.6) rotate(-90)">FL34</text>
<text class="u" font-size="4.85" text-anchor="end" transform="translate(178.18 341.6) rotate(-90)">FL57</text>
<text class="u" font-size="4.85" text-anchor="end" transform="translate(184.83 341.6) rotate(-90)">FL16</text>
<text class="u" font-size="4.85" text-anchor="end" transform="translate(191.47 341.6) rotate(-90)">FL33</text>
<text class="u" font-size="4.85" text-anchor="end" transform="translate(198.12 341.6) rotate(-90)">FL5</text>
<text class="u" font-size="4.85" text-anchor="end" transform="translate(204.77 341.6) rotate(-90)">FL42</text>
<text class="u" font-size="4.85" text-anchor="end" transform="translate(211.41 341.6) rotate(-90)">FL4</text>
<text class="u" font-size="4.85" text-anchor="end" transform="translate(218.06 341.6) rotate(-90)">FL54</text>
<text class="u" font-size="4.85" text-anchor="end" transform="translate(230.44 341.6) rotate(-90)">FL36</text>
<text class="u" font-size="4.85" text-anchor="end" transform="translate(237.16 341.6) rotate(-90)">FL46</text>
<text class="u" font-size="4.85" text-anchor="end" transform="translate(243.88 341.6) rotate(-90)">FL3</text>
<text class="u" font-size="4.85" text-anchor="end" transform="translate(250.6 341.6) rotate(-90)">FL35</text>
<text class="u" font-size="4.85" text-anchor="end" transform="translate(257.32 341.6) rotate(-90)">FL59</text>
<text class="u" font-size="4.85" text-anchor="end" transform="translate(264.04 341.6) rotate(-90)">FL1</text>
<text class="u" font-size="4.85" text-anchor="end" transform="translate(270.76 341.6) rotate(-90)">FL9</text>
<text class="u" font-size="4.85" text-anchor="end" transform="translate(281.14 341.6) rotate(-90)">FL56</text>
<text class="u" font-size="4.85" text-anchor="end" transform="translate(287.8 341.6) rotate(-90)">FL17</text>
<text class="u" font-size="4.85" text-anchor="end" transform="translate(294.46 341.6) rotate(-90)">FL31</text>
<text class="u" font-size="4.85" text-anchor="end" transform="translate(301.12 341.6) rotate(-90)">FL8</text>
<text class="u" font-size="4.85" text-anchor="end" transform="translate(307.78 341.6) rotate(-90)">FL13</text>
<text class="u" font-size="4.85" text-anchor="end" transform="translate(314.44 341.6) rotate(-90)">FL39</text>
<text class="u" font-size="4.85" text-anchor="end" transform="translate(321.1 341.6) rotate(-90)">FL7</text>
<text class="u" font-size="4.85" text-anchor="end" transform="translate(327.76 341.6) rotate(-90)">FL37</text>
<text class="u" font-size="4.85" text-anchor="end" transform="translate(334.42 341.6) rotate(-90)">FL12</text>
<text class="u" font-size="4.85" text-anchor="end" transform="translate(341.08 341.6) rotate(-90)">FL14</text>
<text class="u" font-size="4.85" text-anchor="end" transform="translate(347.74 341.6) rotate(-90)">FL45</text>
<text class="u" font-size="4.85" text-anchor="end" transform="translate(354.4 341.6) rotate(-90)">FL62</text>
<text class="u" font-size="4.85" text-anchor="end" transform="translate(361.06 341.6) rotate(-90)">FL67</text>
<text x="98.3" y="361.6" font-size="6.8" font-weight="bold" text-anchor="middle" style="fill:#4D6CA6">A1</text>
<text x="187.2" y="361.6" font-size="6.8" font-weight="bold" text-anchor="middle" style="fill:#E59A2E">A2</text>
<text x="249" y="361.6" font-size="6.8" font-weight="bold" text-anchor="middle" style="fill:#E9A03C">B1</text>
<text x="320" y="361.6" font-size="6.8" font-weight="bold" text-anchor="middle" style="fill:#84C162">B2</text>
<rect x="0" y="0" width="520" height="1.1" fill="#000"/>
<rect x="0" y="0" width="1.2" height="374" fill="#000"/>
<rect x="518.7" y="0" width="1.3" height="374" fill="#000"/>
<rect x="0" y="372.7" width="520" height="1.3" fill="#000"/>
</svg></body></html>
